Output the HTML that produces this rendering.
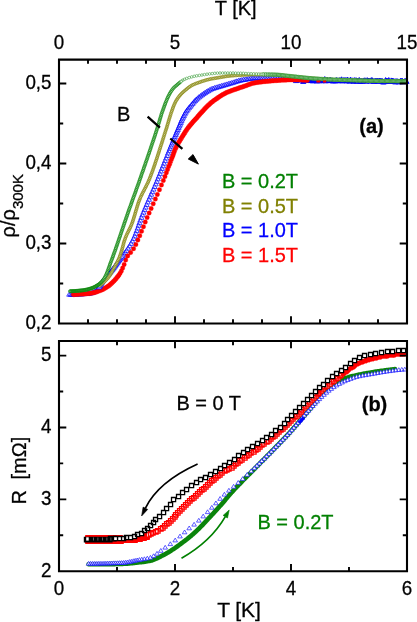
<!DOCTYPE html>
<html><head><meta charset="utf-8"><title>chart</title>
<style>html,body{margin:0;padding:0;background:#fff}svg{display:block}</style></head>
<body>
<svg width="417" height="622" viewBox="0 0 417 622" font-family="Liberation Sans, sans-serif">
<rect width="417" height="622" fill="#fff"/>
<g id="top">
<path d="M69.2 291.9l2.6 4.3h-5.1zM70.5 291.9l2.6 4.3h-5.1zM71.8 291.9l2.6 4.3h-5.1zM73.1 291.9l2.6 4.3h-5.1zM74.4 291.8l2.6 4.3h-5.1zM75.7 291.8l2.6 4.3h-5.1zM76.9 291.7l2.6 4.3h-5.1zM78.2 291.7l2.6 4.3h-5.1zM79.5 291.6l2.6 4.3h-5.1zM80.7 291.6l2.6 4.3h-5.1zM82 291.5l2.6 4.3h-5.1zM83.3 291.4l2.6 4.3h-5.1zM84.5 291.3l2.6 4.3h-5.1zM85.8 291.2l2.6 4.3h-5.1zM87 291.1l2.6 4.3h-5.1zM88.2 291l2.6 4.3h-5.1zM89.5 290.8l2.6 4.3h-5.1zM90.7 290.6l2.6 4.3h-5.1zM91.9 290.3l2.6 4.3h-5.1zM93 289.9l2.6 4.3h-5.1zM94.2 289.4l2.6 4.3h-5.1zM95.2 288.9l2.6 4.3h-5.1zM96.3 288.3l2.6 4.3h-5.1zM97.3 287.6l2.6 4.3h-5.1zM98.1 286.7l2.6 4.3h-5.1zM98.7 285.7l2.6 4.3h-5.1zM122.7 253.2l2.6 4.3h-5.1zM123.8 251.7l2.6 4.3h-5.1zM125.1 250l2.6 4.3h-5.1zM126.5 248.1l2.6 4.3h-5.1zM128 245.8l2.6 4.3h-5.1zM129.5 243.5l2.6 4.3h-5.1zM131 241.1l2.6 4.3h-5.1zM132.3 238.6l2.6 4.3h-5.1zM133.6 236.1l2.6 4.3h-5.1zM134.7 233.6l2.6 4.3h-5.1zM135.7 231l2.6 4.3h-5.1zM136.6 228.3l2.6 4.3h-5.1zM137.6 225.7l2.6 4.3h-5.1zM138.5 223l2.6 4.3h-5.1zM139.4 220.4l2.6 4.3h-5.1zM140.3 217.8l2.6 4.3h-5.1zM141.3 215.1l2.6 4.3h-5.1zM142.3 212.5l2.6 4.3h-5.1zM143.4 209.9l2.6 4.3h-5.1zM144.4 207.3l2.6 4.3h-5.1zM145.5 204.8l2.6 4.3h-5.1zM146.6 202.2l2.6 4.3h-5.1zM147.7 199.6l2.6 4.3h-5.1zM148.9 197l2.6 4.3h-5.1zM150 194.5l2.6 4.3h-5.1zM151.1 191.9l2.6 4.3h-5.1zM152.2 189.4l2.6 4.3h-5.1zM153.4 186.8l2.6 4.3h-5.1zM154.5 184.2l2.6 4.3h-5.1zM155.6 181.6l2.6 4.3h-5.1zM156.7 179.1l2.6 4.3h-5.1zM157.7 176.5l2.6 4.3h-5.1zM158.8 173.9l2.6 4.3h-5.1zM159.9 171.3l2.6 4.3h-5.1zM160.9 168.7l2.6 4.3h-5.1zM161.9 166.1l2.6 4.3h-5.1zM163 163.5l2.6 4.3h-5.1zM164 160.9l2.6 4.3h-5.1zM165 158.3l2.6 4.3h-5.1zM166.1 155.7l2.6 4.3h-5.1zM167.1 153.2l2.6 4.3h-5.1zM168 150.7l2.6 4.3h-5.1zM169 148.4l2.6 4.3h-5.1zM169.9 146.1l2.6 4.3h-5.1zM170.8 143.9l2.6 4.3h-5.1zM171.6 141.8l2.6 4.3h-5.1zM172.5 139.8l2.6 4.3h-5.1zM173.3 137.8l2.6 4.3h-5.1zM174.1 135.9l2.6 4.3h-5.1zM174.8 134.1l2.6 4.3h-5.1zM175.6 132.3l2.6 4.3h-5.1zM176.3 130.6l2.6 4.3h-5.1zM177 128.8l2.6 4.3h-5.1zM177.8 127.1l2.6 4.3h-5.1zM178.5 125.3l2.6 4.3h-5.1zM179.3 123.6l2.6 4.3h-5.1zM180 121.9l2.6 4.3h-5.1zM180.7 120.1l2.6 4.3h-5.1zM181.4 118.4l2.6 4.3h-5.1zM182.2 116.6l2.6 4.3h-5.1zM183 114.9l2.6 4.3h-5.1zM183.8 113.3l2.6 4.3h-5.1zM184.7 111.6l2.6 4.3h-5.1zM185.6 109.9l2.6 4.3h-5.1zM186.6 108.4l2.6 4.3h-5.1zM187.7 106.9l2.6 4.3h-5.1zM188.9 105.4l2.6 4.3h-5.1zM190.1 104l2.6 4.3h-5.1zM191.3 102.6l2.6 4.3h-5.1zM192.5 101.1l2.6 4.3h-5.1zM193.7 99.7l2.6 4.3h-5.1zM195 98.3l2.6 4.3h-5.1zM196.2 97l2.6 4.3h-5.1zM197.6 95.8l2.6 4.3h-5.1zM199 94.6l2.6 4.3h-5.1zM200.5 93.5l2.6 4.3h-5.1zM202 92.4l2.6 4.3h-5.1zM203.5 91.3l2.6 4.3h-5.1zM205 90.3l2.6 4.3h-5.1zM206.5 89.3l2.6 4.3h-5.1zM208.1 88.4l2.6 4.3h-5.1zM209.7 87.5l2.6 4.3h-5.1zM211.3 86.6l2.6 4.3h-5.1zM213 86l2.6 4.3h-5.1zM214.7 85.4l2.6 4.3h-5.1zM216.4 84.9l2.6 4.3h-5.1zM218.2 84.4l2.6 4.3h-5.1zM219.9 83.9l2.6 4.3h-5.1zM221.6 83.4l2.6 4.3h-5.1zM223.3 82.9l2.6 4.3h-5.1zM225 82.4l2.6 4.3h-5.1zM226.7 81.9l2.6 4.3h-5.1zM228.4 81.4l2.6 4.3h-5.1zM230.1 80.9l2.6 4.3h-5.1zM231.8 80.4l2.6 4.3h-5.1zM233.5 79.9l2.6 4.3h-5.1zM235.2 79.3l2.6 4.3h-5.1zM236.9 78.8l2.6 4.3h-5.1zM238.6 78.3l2.6 4.3h-5.1zM240.2 77.9l2.6 4.3h-5.1zM241.9 77.5l2.6 4.3h-5.1zM243.7 77.2l2.6 4.3h-5.1zM245.4 76.9l2.6 4.3h-5.1zM247.1 76.6l2.6 4.3h-5.1zM248.8 76.3l2.6 4.3h-5.1zM250.5 76l2.6 4.3h-5.1zM252.2 75.8l2.6 4.3h-5.1zM253.9 75.7l2.6 4.3h-5.1zM255.6 75.7l2.6 4.3h-5.1zM257.3 75.7l2.6 4.3h-5.1zM259 75.7l2.6 4.3h-5.1zM260.7 75.8l2.6 4.3h-5.1zM262.4 75.8l2.6 4.3h-5.1zM264.1 75.8l2.6 4.3h-5.1zM265.8 75.9l2.6 4.3h-5.1zM267.5 75.9l2.6 4.3h-5.1zM269.1 76l2.6 4.3h-5.1zM270.8 76l2.6 4.3h-5.1zM272.5 76l2.6 4.3h-5.1zM274.1 76.1l2.6 4.3h-5.1zM275.8 76.2l2.6 4.3h-5.1zM277.5 76.2l2.6 4.3h-5.1zM279.1 76.3l2.6 4.3h-5.1zM280.8 76.4l2.6 4.3h-5.1zM282.4 76.5l2.6 4.3h-5.1zM284 76.5l2.6 4.3h-5.1zM285.7 76.6l2.6 4.3h-5.1zM287.3 76.7l2.6 4.3h-5.1zM288.9 76.8l2.6 4.3h-5.1zM290.6 76.9l2.6 4.3h-5.1zM292.2 77l2.6 4.3h-5.1zM293.8 77l2.6 4.3h-5.1zM295.4 77.1l2.6 4.3h-5.1zM297 77.1l2.6 4.3h-5.1zM298.6 77.2l2.6 4.3h-5.1z" fill="#fff" stroke="#0000ff" stroke-width="0.7" />
<path d="M296 78.1l2.7 4.5h-5.3zM296.8 76.1l2.7 4.5h-5.3zM297.6 77.4l2.7 4.5h-5.3zM298.4 77l2.7 4.5h-5.3zM299.2 77.1l2.7 4.5h-5.3zM300 77.3l2.7 4.5h-5.3zM300.8 76.5l2.7 4.5h-5.3zM301.6 77.3l2.7 4.5h-5.3zM302.4 77l2.7 4.5h-5.3zM303.2 79l2.7 4.5h-5.3zM304 77.6l2.7 4.5h-5.3zM304.8 77.4l2.7 4.5h-5.3zM305.6 77.4l2.7 4.5h-5.3zM306.4 77.3l2.7 4.5h-5.3zM307.2 77.1l2.7 4.5h-5.3zM308 77.4l2.7 4.5h-5.3zM308.8 77.8l2.7 4.5h-5.3zM309.6 77.5l2.7 4.5h-5.3zM310.4 78.1l2.7 4.5h-5.3zM311.2 77.6l2.7 4.5h-5.3zM312 77.7l2.7 4.5h-5.3zM312.8 78.4l2.7 4.5h-5.3zM313.6 78l2.7 4.5h-5.3zM314.4 77.5l2.7 4.5h-5.3zM315.2 77.7l2.7 4.5h-5.3zM316 78l2.7 4.5h-5.3zM316.8 78.6l2.7 4.5h-5.3zM317.6 77.6l2.7 4.5h-5.3zM318.4 77.7l2.7 4.5h-5.3zM319.2 78.2l2.7 4.5h-5.3zM320 77.4l2.7 4.5h-5.3zM320.8 77.7l2.7 4.5h-5.3zM321.6 78.2l2.7 4.5h-5.3zM322.4 78.1l2.7 4.5h-5.3zM323.2 77.8l2.7 4.5h-5.3zM324 78.1l2.7 4.5h-5.3zM324.8 76.5l2.7 4.5h-5.3zM325.6 78.3l2.7 4.5h-5.3zM326.4 77.4l2.7 4.5h-5.3zM327.2 77.1l2.7 4.5h-5.3zM328 78l2.7 4.5h-5.3zM328.8 78.2l2.7 4.5h-5.3zM329.6 77.7l2.7 4.5h-5.3zM330.4 77.4l2.7 4.5h-5.3zM331.2 77.9l2.7 4.5h-5.3zM332 77.8l2.7 4.5h-5.3zM332.8 78.5l2.7 4.5h-5.3zM333.6 78.2l2.7 4.5h-5.3zM334.4 78l2.7 4.5h-5.3zM335.2 78.4l2.7 4.5h-5.3zM336 77.8l2.7 4.5h-5.3zM336.8 77.5l2.7 4.5h-5.3zM337.6 78.2l2.7 4.5h-5.3zM338.4 78.2l2.7 4.5h-5.3zM339.2 77.8l2.7 4.5h-5.3zM340 77.6l2.7 4.5h-5.3zM340.8 78.1l2.7 4.5h-5.3zM341.6 76.8l2.7 4.5h-5.3zM342.4 78.3l2.7 4.5h-5.3zM343.2 78.2l2.7 4.5h-5.3zM344 77.3l2.7 4.5h-5.3zM344.8 78l2.7 4.5h-5.3zM345.6 77.6l2.7 4.5h-5.3zM346.4 78.4l2.7 4.5h-5.3zM347.2 77.1l2.7 4.5h-5.3zM348 77.6l2.7 4.5h-5.3zM348.8 78.4l2.7 4.5h-5.3zM349.6 78.6l2.7 4.5h-5.3zM350.4 77.1l2.7 4.5h-5.3zM351.2 77.8l2.7 4.5h-5.3zM352 78.2l2.7 4.5h-5.3zM352.8 77.8l2.7 4.5h-5.3zM353.6 78.8l2.7 4.5h-5.3zM354.4 77.6l2.7 4.5h-5.3zM355.2 78.3l2.7 4.5h-5.3zM356 77.6l2.7 4.5h-5.3zM356.8 78.8l2.7 4.5h-5.3zM357.6 78.1l2.7 4.5h-5.3zM358.4 78l2.7 4.5h-5.3zM359.2 77.4l2.7 4.5h-5.3zM360 78.9l2.7 4.5h-5.3zM360.8 78.5l2.7 4.5h-5.3zM361.6 78.5l2.7 4.5h-5.3zM362.4 78.7l2.7 4.5h-5.3zM363.2 78.3l2.7 4.5h-5.3zM364 77.9l2.7 4.5h-5.3zM364.8 77.8l2.7 4.5h-5.3zM365.6 77.9l2.7 4.5h-5.3zM366.4 78.8l2.7 4.5h-5.3zM367.2 77.6l2.7 4.5h-5.3zM368 78l2.7 4.5h-5.3zM368.8 78.1l2.7 4.5h-5.3zM369.6 78.4l2.7 4.5h-5.3zM370.4 78.5l2.7 4.5h-5.3zM371.2 77.7l2.7 4.5h-5.3zM372 77.5l2.7 4.5h-5.3zM372.8 78.3l2.7 4.5h-5.3zM373.6 78.8l2.7 4.5h-5.3zM374.4 78.7l2.7 4.5h-5.3zM375.2 78.4l2.7 4.5h-5.3zM376 78.2l2.7 4.5h-5.3zM376.8 78.5l2.7 4.5h-5.3zM377.6 78.2l2.7 4.5h-5.3zM378.4 78.7l2.7 4.5h-5.3zM379.2 78l2.7 4.5h-5.3zM380 78.4l2.7 4.5h-5.3zM380.8 78.3l2.7 4.5h-5.3zM381.6 78.6l2.7 4.5h-5.3zM382.4 78.5l2.7 4.5h-5.3zM383.2 79.6l2.7 4.5h-5.3zM384 79.1l2.7 4.5h-5.3zM384.8 79.1l2.7 4.5h-5.3zM385.6 77.5l2.7 4.5h-5.3zM386.4 78.3l2.7 4.5h-5.3zM387.2 78.2l2.7 4.5h-5.3zM388 78.7l2.7 4.5h-5.3zM388.8 77.5l2.7 4.5h-5.3zM389.6 79l2.7 4.5h-5.3zM390.4 79l2.7 4.5h-5.3zM391.2 77.9l2.7 4.5h-5.3zM392 78.1l2.7 4.5h-5.3zM392.8 78.2l2.7 4.5h-5.3zM393.6 78.6l2.7 4.5h-5.3zM394.4 78.8l2.7 4.5h-5.3zM395.2 79.5l2.7 4.5h-5.3zM396 78.5l2.7 4.5h-5.3zM396.8 78.9l2.7 4.5h-5.3zM397.6 78.7l2.7 4.5h-5.3zM398.4 79.4l2.7 4.5h-5.3zM399.2 78.9l2.7 4.5h-5.3zM400 79.2l2.7 4.5h-5.3zM400.8 78.1l2.7 4.5h-5.3zM401.6 78.5l2.7 4.5h-5.3zM402.4 78.3l2.7 4.5h-5.3zM403.2 79.3l2.7 4.5h-5.3zM404 79l2.7 4.5h-5.3zM404.8 78.5l2.7 4.5h-5.3zM405.6 78.5l2.7 4.5h-5.3zM406.4 78.9l2.7 4.5h-5.3z" fill="#0000ff" stroke="#0000ff" stroke-width="0.8" />
<path d="M71.2 294.6a2.2 2.2 0 1 0 4.5 0a2.2 2.2 0 1 0 -4.5 0zM72.4 294.5a2.2 2.2 0 1 0 4.5 0a2.2 2.2 0 1 0 -4.5 0zM73.8 294.4a2.2 2.2 0 1 0 4.5 0a2.2 2.2 0 1 0 -4.5 0zM75.1 294.3a2.2 2.2 0 1 0 4.5 0a2.2 2.2 0 1 0 -4.5 0zM76.4 294.2a2.2 2.2 0 1 0 4.5 0a2.2 2.2 0 1 0 -4.5 0zM77.7 294.1a2.2 2.2 0 1 0 4.5 0a2.2 2.2 0 1 0 -4.5 0zM79 294a2.2 2.2 0 1 0 4.5 0a2.2 2.2 0 1 0 -4.5 0zM80.4 293.9a2.2 2.2 0 1 0 4.5 0a2.2 2.2 0 1 0 -4.5 0zM81.7 293.9a2.2 2.2 0 1 0 4.5 0a2.2 2.2 0 1 0 -4.5 0zM83 293.8a2.2 2.2 0 1 0 4.5 0a2.2 2.2 0 1 0 -4.5 0zM84.4 293.7a2.2 2.2 0 1 0 4.5 0a2.2 2.2 0 1 0 -4.5 0zM85.8 293.6a2.2 2.2 0 1 0 4.5 0a2.2 2.2 0 1 0 -4.5 0zM87.1 293.5a2.2 2.2 0 1 0 4.5 0a2.2 2.2 0 1 0 -4.5 0zM88.5 293.3a2.2 2.2 0 1 0 4.5 0a2.2 2.2 0 1 0 -4.5 0zM89.8 293.1a2.2 2.2 0 1 0 4.5 0a2.2 2.2 0 1 0 -4.5 0zM91.2 292.8a2.2 2.2 0 1 0 4.5 0a2.2 2.2 0 1 0 -4.5 0zM92.5 292.4a2.2 2.2 0 1 0 4.5 0a2.2 2.2 0 1 0 -4.5 0zM93.9 292a2.2 2.2 0 1 0 4.5 0a2.2 2.2 0 1 0 -4.5 0zM95.2 291.6a2.2 2.2 0 1 0 4.5 0a2.2 2.2 0 1 0 -4.5 0zM96.5 291.1a2.2 2.2 0 1 0 4.5 0a2.2 2.2 0 1 0 -4.5 0zM97.9 290.6a2.2 2.2 0 1 0 4.5 0a2.2 2.2 0 1 0 -4.5 0zM99.2 290.1a2.2 2.2 0 1 0 4.5 0a2.2 2.2 0 1 0 -4.5 0zM100.5 289.5a2.2 2.2 0 1 0 4.5 0a2.2 2.2 0 1 0 -4.5 0zM101.7 288.8a2.2 2.2 0 1 0 4.5 0a2.2 2.2 0 1 0 -4.5 0zM103 288.1a2.2 2.2 0 1 0 4.5 0a2.2 2.2 0 1 0 -4.5 0zM104.2 287.3a2.2 2.2 0 1 0 4.5 0a2.2 2.2 0 1 0 -4.5 0zM105.4 286.6a2.2 2.2 0 1 0 4.5 0a2.2 2.2 0 1 0 -4.5 0zM106.6 285.7a2.2 2.2 0 1 0 4.5 0a2.2 2.2 0 1 0 -4.5 0zM107.7 284.8a2.2 2.2 0 1 0 4.5 0a2.2 2.2 0 1 0 -4.5 0zM108.8 283.8a2.2 2.2 0 1 0 4.5 0a2.2 2.2 0 1 0 -4.5 0zM109.9 282.8a2.2 2.2 0 1 0 4.5 0a2.2 2.2 0 1 0 -4.5 0zM110.9 281.7a2.2 2.2 0 1 0 4.5 0a2.2 2.2 0 1 0 -4.5 0zM112 280.7a2.2 2.2 0 1 0 4.5 0a2.2 2.2 0 1 0 -4.5 0zM113 279.6a2.2 2.2 0 1 0 4.5 0a2.2 2.2 0 1 0 -4.5 0zM114 278.5a2.2 2.2 0 1 0 4.5 0a2.2 2.2 0 1 0 -4.5 0zM114.9 277.3a2.2 2.2 0 1 0 4.5 0a2.2 2.2 0 1 0 -4.5 0zM115.8 276.2a2.2 2.2 0 1 0 4.5 0a2.2 2.2 0 1 0 -4.5 0zM116.7 274.9a2.2 2.2 0 1 0 4.5 0a2.2 2.2 0 1 0 -4.5 0zM117.8 273.2a2.2 2.2 0 1 0 4.5 0a2.2 2.2 0 1 0 -4.5 0zM119.1 271a2.2 2.2 0 1 0 4.5 0a2.2 2.2 0 1 0 -4.5 0zM120.4 268a2.2 2.2 0 1 0 4.5 0a2.2 2.2 0 1 0 -4.5 0zM121.9 264.4a2.2 2.2 0 1 0 4.5 0a2.2 2.2 0 1 0 -4.5 0zM123.4 260.1a2.2 2.2 0 1 0 4.5 0a2.2 2.2 0 1 0 -4.5 0zM125.4 255.9a2.2 2.2 0 1 0 4.5 0a2.2 2.2 0 1 0 -4.5 0zM128.4 252.4a2.2 2.2 0 1 0 4.5 0a2.2 2.2 0 1 0 -4.5 0zM131.3 248.7a2.2 2.2 0 1 0 4.5 0a2.2 2.2 0 1 0 -4.5 0zM133.6 244.5a2.2 2.2 0 1 0 4.5 0a2.2 2.2 0 1 0 -4.5 0zM135.6 240.1a2.2 2.2 0 1 0 4.5 0a2.2 2.2 0 1 0 -4.5 0zM137.5 235.7a2.2 2.2 0 1 0 4.5 0a2.2 2.2 0 1 0 -4.5 0zM139.3 231.2a2.2 2.2 0 1 0 4.5 0a2.2 2.2 0 1 0 -4.5 0zM141.2 226.7a2.2 2.2 0 1 0 4.5 0a2.2 2.2 0 1 0 -4.5 0zM143 222.1a2.2 2.2 0 1 0 4.5 0a2.2 2.2 0 1 0 -4.5 0zM144.9 217.5a2.2 2.2 0 1 0 4.5 0a2.2 2.2 0 1 0 -4.5 0zM146.9 213a2.2 2.2 0 1 0 4.5 0a2.2 2.2 0 1 0 -4.5 0zM148.9 208.4a2.2 2.2 0 1 0 4.5 0a2.2 2.2 0 1 0 -4.5 0zM151 203.8a2.2 2.2 0 1 0 4.5 0a2.2 2.2 0 1 0 -4.5 0zM153.1 199.1a2.2 2.2 0 1 0 4.5 0a2.2 2.2 0 1 0 -4.5 0zM155.1 194.4a2.2 2.2 0 1 0 4.5 0a2.2 2.2 0 1 0 -4.5 0zM157.2 189.7a2.2 2.2 0 1 0 4.5 0a2.2 2.2 0 1 0 -4.5 0zM159.2 184.9a2.2 2.2 0 1 0 4.5 0a2.2 2.2 0 1 0 -4.5 0zM161.1 180.5a2.2 2.2 0 1 0 4.5 0a2.2 2.2 0 1 0 -4.5 0zM162.7 176.5a2.2 2.2 0 1 0 4.5 0a2.2 2.2 0 1 0 -4.5 0zM164.1 172.8a2.2 2.2 0 1 0 4.5 0a2.2 2.2 0 1 0 -4.5 0zM165.3 169.6a2.2 2.2 0 1 0 4.5 0a2.2 2.2 0 1 0 -4.5 0zM166.4 166.6a2.2 2.2 0 1 0 4.5 0a2.2 2.2 0 1 0 -4.5 0zM167.5 163.9a2.2 2.2 0 1 0 4.5 0a2.2 2.2 0 1 0 -4.5 0zM168.4 161.4a2.2 2.2 0 1 0 4.5 0a2.2 2.2 0 1 0 -4.5 0zM169.2 159.2a2.2 2.2 0 1 0 4.5 0a2.2 2.2 0 1 0 -4.5 0zM170 157.2a2.2 2.2 0 1 0 4.5 0a2.2 2.2 0 1 0 -4.5 0zM170.7 155.4a2.2 2.2 0 1 0 4.5 0a2.2 2.2 0 1 0 -4.5 0zM171.3 153.6a2.2 2.2 0 1 0 4.5 0a2.2 2.2 0 1 0 -4.5 0zM172 151.8a2.2 2.2 0 1 0 4.5 0a2.2 2.2 0 1 0 -4.5 0zM172.6 150.1a2.2 2.2 0 1 0 4.5 0a2.2 2.2 0 1 0 -4.5 0zM173.3 148.4a2.2 2.2 0 1 0 4.5 0a2.2 2.2 0 1 0 -4.5 0zM174 146.9a2.2 2.2 0 1 0 4.5 0a2.2 2.2 0 1 0 -4.5 0zM174.8 145.4a2.2 2.2 0 1 0 4.5 0a2.2 2.2 0 1 0 -4.5 0zM175.6 143.9a2.2 2.2 0 1 0 4.5 0a2.2 2.2 0 1 0 -4.5 0zM176.4 142.6a2.2 2.2 0 1 0 4.5 0a2.2 2.2 0 1 0 -4.5 0zM177.2 141.3a2.2 2.2 0 1 0 4.5 0a2.2 2.2 0 1 0 -4.5 0zM177.9 140.1a2.2 2.2 0 1 0 4.5 0a2.2 2.2 0 1 0 -4.5 0zM178.6 138.9a2.2 2.2 0 1 0 4.5 0a2.2 2.2 0 1 0 -4.5 0zM179.4 137.7a2.2 2.2 0 1 0 4.5 0a2.2 2.2 0 1 0 -4.5 0zM180.1 136.5a2.2 2.2 0 1 0 4.5 0a2.2 2.2 0 1 0 -4.5 0zM180.9 135.3a2.2 2.2 0 1 0 4.5 0a2.2 2.2 0 1 0 -4.5 0zM181.6 134.1a2.2 2.2 0 1 0 4.5 0a2.2 2.2 0 1 0 -4.5 0zM182.4 133a2.2 2.2 0 1 0 4.5 0a2.2 2.2 0 1 0 -4.5 0zM183.1 131.8a2.2 2.2 0 1 0 4.5 0a2.2 2.2 0 1 0 -4.5 0zM183.9 130.6a2.2 2.2 0 1 0 4.5 0a2.2 2.2 0 1 0 -4.5 0zM184.7 129.5a2.2 2.2 0 1 0 4.5 0a2.2 2.2 0 1 0 -4.5 0zM185.5 128.3a2.2 2.2 0 1 0 4.5 0a2.2 2.2 0 1 0 -4.5 0zM186.3 127.2a2.2 2.2 0 1 0 4.5 0a2.2 2.2 0 1 0 -4.5 0zM187.2 126.1a2.2 2.2 0 1 0 4.5 0a2.2 2.2 0 1 0 -4.5 0zM188.1 125a2.2 2.2 0 1 0 4.5 0a2.2 2.2 0 1 0 -4.5 0zM189 123.9a2.2 2.2 0 1 0 4.5 0a2.2 2.2 0 1 0 -4.5 0zM189.9 122.9a2.2 2.2 0 1 0 4.5 0a2.2 2.2 0 1 0 -4.5 0zM190.8 121.8a2.2 2.2 0 1 0 4.5 0a2.2 2.2 0 1 0 -4.5 0zM191.7 120.8a2.2 2.2 0 1 0 4.5 0a2.2 2.2 0 1 0 -4.5 0zM192.7 119.7a2.2 2.2 0 1 0 4.5 0a2.2 2.2 0 1 0 -4.5 0zM193.6 118.7a2.2 2.2 0 1 0 4.5 0a2.2 2.2 0 1 0 -4.5 0zM194.6 117.7a2.2 2.2 0 1 0 4.5 0a2.2 2.2 0 1 0 -4.5 0zM195.5 116.6a2.2 2.2 0 1 0 4.5 0a2.2 2.2 0 1 0 -4.5 0zM196.4 115.6a2.2 2.2 0 1 0 4.5 0a2.2 2.2 0 1 0 -4.5 0zM197.3 114.5a2.2 2.2 0 1 0 4.5 0a2.2 2.2 0 1 0 -4.5 0zM198.2 113.4a2.2 2.2 0 1 0 4.5 0a2.2 2.2 0 1 0 -4.5 0zM199.2 112.4a2.2 2.2 0 1 0 4.5 0a2.2 2.2 0 1 0 -4.5 0zM200.1 111.4a2.2 2.2 0 1 0 4.5 0a2.2 2.2 0 1 0 -4.5 0zM201.1 110.4a2.2 2.2 0 1 0 4.5 0a2.2 2.2 0 1 0 -4.5 0zM202.1 109.3a2.2 2.2 0 1 0 4.5 0a2.2 2.2 0 1 0 -4.5 0zM203 108.3a2.2 2.2 0 1 0 4.5 0a2.2 2.2 0 1 0 -4.5 0zM204 107.3a2.2 2.2 0 1 0 4.5 0a2.2 2.2 0 1 0 -4.5 0zM205 106.3a2.2 2.2 0 1 0 4.5 0a2.2 2.2 0 1 0 -4.5 0zM206 105.3a2.2 2.2 0 1 0 4.5 0a2.2 2.2 0 1 0 -4.5 0zM207 104.4a2.2 2.2 0 1 0 4.5 0a2.2 2.2 0 1 0 -4.5 0zM208 103.4a2.2 2.2 0 1 0 4.5 0a2.2 2.2 0 1 0 -4.5 0zM209.1 102.5a2.2 2.2 0 1 0 4.5 0a2.2 2.2 0 1 0 -4.5 0zM210.2 101.7a2.2 2.2 0 1 0 4.5 0a2.2 2.2 0 1 0 -4.5 0zM211.3 100.8a2.2 2.2 0 1 0 4.5 0a2.2 2.2 0 1 0 -4.5 0zM212.4 100a2.2 2.2 0 1 0 4.5 0a2.2 2.2 0 1 0 -4.5 0zM213.6 99.2a2.2 2.2 0 1 0 4.5 0a2.2 2.2 0 1 0 -4.5 0zM214.7 98.4a2.2 2.2 0 1 0 4.5 0a2.2 2.2 0 1 0 -4.5 0zM215.9 97.6a2.2 2.2 0 1 0 4.5 0a2.2 2.2 0 1 0 -4.5 0zM217.1 96.8a2.2 2.2 0 1 0 4.5 0a2.2 2.2 0 1 0 -4.5 0zM218.2 96.1a2.2 2.2 0 1 0 4.5 0a2.2 2.2 0 1 0 -4.5 0zM219.4 95.3a2.2 2.2 0 1 0 4.5 0a2.2 2.2 0 1 0 -4.5 0zM220.6 94.6a2.2 2.2 0 1 0 4.5 0a2.2 2.2 0 1 0 -4.5 0zM221.8 93.9a2.2 2.2 0 1 0 4.5 0a2.2 2.2 0 1 0 -4.5 0zM223 93.2a2.2 2.2 0 1 0 4.5 0a2.2 2.2 0 1 0 -4.5 0zM224.3 92.6a2.2 2.2 0 1 0 4.5 0a2.2 2.2 0 1 0 -4.5 0zM225.6 92.1a2.2 2.2 0 1 0 4.5 0a2.2 2.2 0 1 0 -4.5 0zM226.9 91.6a2.2 2.2 0 1 0 4.5 0a2.2 2.2 0 1 0 -4.5 0zM228.2 91.1a2.2 2.2 0 1 0 4.5 0a2.2 2.2 0 1 0 -4.5 0zM229.5 90.6a2.2 2.2 0 1 0 4.5 0a2.2 2.2 0 1 0 -4.5 0zM230.8 90.1a2.2 2.2 0 1 0 4.5 0a2.2 2.2 0 1 0 -4.5 0zM232.2 89.6a2.2 2.2 0 1 0 4.5 0a2.2 2.2 0 1 0 -4.5 0zM233.5 89.2a2.2 2.2 0 1 0 4.5 0a2.2 2.2 0 1 0 -4.5 0zM234.8 88.7a2.2 2.2 0 1 0 4.5 0a2.2 2.2 0 1 0 -4.5 0zM236.1 88.2a2.2 2.2 0 1 0 4.5 0a2.2 2.2 0 1 0 -4.5 0zM237.4 87.8a2.2 2.2 0 1 0 4.5 0a2.2 2.2 0 1 0 -4.5 0zM238.8 87.3a2.2 2.2 0 1 0 4.5 0a2.2 2.2 0 1 0 -4.5 0zM240.1 86.9a2.2 2.2 0 1 0 4.5 0a2.2 2.2 0 1 0 -4.5 0zM241.4 86.4a2.2 2.2 0 1 0 4.5 0a2.2 2.2 0 1 0 -4.5 0zM242.7 86a2.2 2.2 0 1 0 4.5 0a2.2 2.2 0 1 0 -4.5 0zM244.1 85.5a2.2 2.2 0 1 0 4.5 0a2.2 2.2 0 1 0 -4.5 0zM245.4 85a2.2 2.2 0 1 0 4.5 0a2.2 2.2 0 1 0 -4.5 0zM246.7 84.5a2.2 2.2 0 1 0 4.5 0a2.2 2.2 0 1 0 -4.5 0zM248 84.1a2.2 2.2 0 1 0 4.5 0a2.2 2.2 0 1 0 -4.5 0zM249.3 83.6a2.2 2.2 0 1 0 4.5 0a2.2 2.2 0 1 0 -4.5 0zM250.7 83.2a2.2 2.2 0 1 0 4.5 0a2.2 2.2 0 1 0 -4.5 0zM252.1 82.9a2.2 2.2 0 1 0 4.5 0a2.2 2.2 0 1 0 -4.5 0zM253.4 82.7a2.2 2.2 0 1 0 4.5 0a2.2 2.2 0 1 0 -4.5 0zM254.8 82.5a2.2 2.2 0 1 0 4.5 0a2.2 2.2 0 1 0 -4.5 0zM256.2 82.3a2.2 2.2 0 1 0 4.5 0a2.2 2.2 0 1 0 -4.5 0zM257.6 82.1a2.2 2.2 0 1 0 4.5 0a2.2 2.2 0 1 0 -4.5 0zM259 81.9a2.2 2.2 0 1 0 4.5 0a2.2 2.2 0 1 0 -4.5 0zM260.4 81.7a2.2 2.2 0 1 0 4.5 0a2.2 2.2 0 1 0 -4.5 0zM261.8 81.6a2.2 2.2 0 1 0 4.5 0a2.2 2.2 0 1 0 -4.5 0zM263.1 81.4a2.2 2.2 0 1 0 4.5 0a2.2 2.2 0 1 0 -4.5 0zM264.5 81.3a2.2 2.2 0 1 0 4.5 0a2.2 2.2 0 1 0 -4.5 0zM265.9 81.2a2.2 2.2 0 1 0 4.5 0a2.2 2.2 0 1 0 -4.5 0zM267.3 81.1a2.2 2.2 0 1 0 4.5 0a2.2 2.2 0 1 0 -4.5 0zM268.7 80.9a2.2 2.2 0 1 0 4.5 0a2.2 2.2 0 1 0 -4.5 0zM270.1 80.8a2.2 2.2 0 1 0 4.5 0a2.2 2.2 0 1 0 -4.5 0zM271.5 80.7a2.2 2.2 0 1 0 4.5 0a2.2 2.2 0 1 0 -4.5 0zM272.9 80.6a2.2 2.2 0 1 0 4.5 0a2.2 2.2 0 1 0 -4.5 0zM274.3 80.5a2.2 2.2 0 1 0 4.5 0a2.2 2.2 0 1 0 -4.5 0zM275.7 80.4a2.2 2.2 0 1 0 4.5 0a2.2 2.2 0 1 0 -4.5 0zM277.1 80.3a2.2 2.2 0 1 0 4.5 0a2.2 2.2 0 1 0 -4.5 0zM278.5 80.2a2.2 2.2 0 1 0 4.5 0a2.2 2.2 0 1 0 -4.5 0zM279.9 80.1a2.2 2.2 0 1 0 4.5 0a2.2 2.2 0 1 0 -4.5 0zM281.3 80a2.2 2.2 0 1 0 4.5 0a2.2 2.2 0 1 0 -4.5 0zM282.7 80a2.2 2.2 0 1 0 4.5 0a2.2 2.2 0 1 0 -4.5 0zM284.1 79.9a2.2 2.2 0 1 0 4.5 0a2.2 2.2 0 1 0 -4.5 0zM285.5 79.8a2.2 2.2 0 1 0 4.5 0a2.2 2.2 0 1 0 -4.5 0zM286.9 79.8a2.2 2.2 0 1 0 4.5 0a2.2 2.2 0 1 0 -4.5 0zM288.3 79.7a2.2 2.2 0 1 0 4.5 0a2.2 2.2 0 1 0 -4.5 0zM289.7 79.7a2.2 2.2 0 1 0 4.5 0a2.2 2.2 0 1 0 -4.5 0zM291.1 79.7a2.2 2.2 0 1 0 4.5 0a2.2 2.2 0 1 0 -4.5 0zM292.5 79.7a2.2 2.2 0 1 0 4.5 0a2.2 2.2 0 1 0 -4.5 0zM293.9 79.7a2.2 2.2 0 1 0 4.5 0a2.2 2.2 0 1 0 -4.5 0zM295.3 79.8a2.2 2.2 0 1 0 4.5 0a2.2 2.2 0 1 0 -4.5 0zM296.7 79.8a2.2 2.2 0 1 0 4.5 0a2.2 2.2 0 1 0 -4.5 0zM298.1 79.8a2.2 2.2 0 1 0 4.5 0a2.2 2.2 0 1 0 -4.5 0zM299.5 79.9a2.2 2.2 0 1 0 4.5 0a2.2 2.2 0 1 0 -4.5 0zM300.9 80a2.2 2.2 0 1 0 4.5 0a2.2 2.2 0 1 0 -4.5 0zM302.3 80.1a2.2 2.2 0 1 0 4.5 0a2.2 2.2 0 1 0 -4.5 0zM303.7 80.2a2.2 2.2 0 1 0 4.5 0a2.2 2.2 0 1 0 -4.5 0zM305.1 80.3a2.2 2.2 0 1 0 4.5 0a2.2 2.2 0 1 0 -4.5 0z" fill="#ff0000" stroke="#ff0000" stroke-width="0.3" />
<path d="M99.3 284.6l2.6 4.3h-5.1zM99.9 283.6l2.6 4.3h-5.1zM100.5 282.5l2.6 4.3h-5.1zM101 281.4l2.6 4.3h-5.1zM101.6 280.4l2.6 4.3h-5.1zM102.2 279.3l2.6 4.3h-5.1zM102.9 278.3l2.6 4.3h-5.1zM103.6 277.4l2.6 4.3h-5.1zM104.4 276.4l2.6 4.3h-5.1zM105.2 275.5l2.6 4.3h-5.1zM106 274.6l2.6 4.3h-5.1zM106.8 273.7l2.6 4.3h-5.1zM107.6 272.7l2.6 4.3h-5.1zM108.4 271.8l2.6 4.3h-5.1zM109.2 270.8l2.6 4.3h-5.1zM110 269.9l2.6 4.3h-5.1zM110.8 268.9l2.6 4.3h-5.1zM111.6 267.9l2.6 4.3h-5.1zM112.4 267l2.6 4.3h-5.1zM113.2 266l2.6 4.3h-5.1zM113.9 265l2.6 4.3h-5.1zM114.7 263.9l2.6 4.3h-5.1zM115.4 262.9l2.6 4.3h-5.1zM116.2 261.9l2.6 4.3h-5.1zM116.9 260.8l2.6 4.3h-5.1zM117.7 259.8l2.6 4.3h-5.1zM118.4 258.7l2.6 4.3h-5.1zM119.2 257.7l2.6 4.3h-5.1zM120 256.7l2.6 4.3h-5.1zM120.7 255.6l2.6 4.3h-5.1zM121.6 254.5l2.6 4.3h-5.1z" fill="#fff" stroke="#0000ff" stroke-width="0.7" />
<path d="M98.5 285.6a1.4 1.4 0 1 0 2.9 0a1.4 1.4 0 1 0 -2.9 0zM99.7 284.6a1.4 1.4 0 1 0 2.9 0a1.4 1.4 0 1 0 -2.9 0zM100.8 283.6a1.4 1.4 0 1 0 2.9 0a1.4 1.4 0 1 0 -2.9 0zM101.9 282.6a1.4 1.4 0 1 0 2.9 0a1.4 1.4 0 1 0 -2.9 0zM103 281.6a1.4 1.4 0 1 0 2.9 0a1.4 1.4 0 1 0 -2.9 0zM104.1 280.5a1.4 1.4 0 1 0 2.9 0a1.4 1.4 0 1 0 -2.9 0zM105.1 279.5a1.4 1.4 0 1 0 2.9 0a1.4 1.4 0 1 0 -2.9 0zM106.2 278.4a1.4 1.4 0 1 0 2.9 0a1.4 1.4 0 1 0 -2.9 0zM107.1 277.2a1.4 1.4 0 1 0 2.9 0a1.4 1.4 0 1 0 -2.9 0zM108 276a1.4 1.4 0 1 0 2.9 0a1.4 1.4 0 1 0 -2.9 0zM108.9 274.8a1.4 1.4 0 1 0 2.9 0a1.4 1.4 0 1 0 -2.9 0zM109.6 273.5a1.4 1.4 0 1 0 2.9 0a1.4 1.4 0 1 0 -2.9 0zM110.3 272.2a1.4 1.4 0 1 0 2.9 0a1.4 1.4 0 1 0 -2.9 0zM111 270.8a1.4 1.4 0 1 0 2.9 0a1.4 1.4 0 1 0 -2.9 0zM111.7 269.5a1.4 1.4 0 1 0 2.9 0a1.4 1.4 0 1 0 -2.9 0zM112.4 268.2a1.4 1.4 0 1 0 2.9 0a1.4 1.4 0 1 0 -2.9 0zM113.1 266.9a1.4 1.4 0 1 0 2.9 0a1.4 1.4 0 1 0 -2.9 0zM113.9 265.5a1.4 1.4 0 1 0 2.9 0a1.4 1.4 0 1 0 -2.9 0zM114.6 264.2a1.4 1.4 0 1 0 2.9 0a1.4 1.4 0 1 0 -2.9 0zM115.3 262.9a1.4 1.4 0 1 0 2.9 0a1.4 1.4 0 1 0 -2.9 0zM116 261.6a1.4 1.4 0 1 0 2.9 0a1.4 1.4 0 1 0 -2.9 0zM116.6 260.2a1.4 1.4 0 1 0 2.9 0a1.4 1.4 0 1 0 -2.9 0zM117.3 258.9a1.4 1.4 0 1 0 2.9 0a1.4 1.4 0 1 0 -2.9 0zM117.9 257.5a1.4 1.4 0 1 0 2.9 0a1.4 1.4 0 1 0 -2.9 0zM118.4 256.1a1.4 1.4 0 1 0 2.9 0a1.4 1.4 0 1 0 -2.9 0zM118.9 254.7a1.4 1.4 0 1 0 2.9 0a1.4 1.4 0 1 0 -2.9 0zM119.4 253.3a1.4 1.4 0 1 0 2.9 0a1.4 1.4 0 1 0 -2.9 0zM119.8 251.8a1.4 1.4 0 1 0 2.9 0a1.4 1.4 0 1 0 -2.9 0zM120.3 250.4a1.4 1.4 0 1 0 2.9 0a1.4 1.4 0 1 0 -2.9 0zM120.7 249a1.4 1.4 0 1 0 2.9 0a1.4 1.4 0 1 0 -2.9 0zM121.1 247.5a1.4 1.4 0 1 0 2.9 0a1.4 1.4 0 1 0 -2.9 0zM121.5 246.1a1.4 1.4 0 1 0 2.9 0a1.4 1.4 0 1 0 -2.9 0zM121.9 244.6a1.4 1.4 0 1 0 2.9 0a1.4 1.4 0 1 0 -2.9 0zM122.2 243.1a1.4 1.4 0 1 0 2.9 0a1.4 1.4 0 1 0 -2.9 0zM122.6 241.7a1.4 1.4 0 1 0 2.9 0a1.4 1.4 0 1 0 -2.9 0zM123.1 240.3a1.4 1.4 0 1 0 2.9 0a1.4 1.4 0 1 0 -2.9 0zM123.6 238.9a1.4 1.4 0 1 0 2.9 0a1.4 1.4 0 1 0 -2.9 0zM124.1 237.4a1.4 1.4 0 1 0 2.9 0a1.4 1.4 0 1 0 -2.9 0zM124.7 236.1a1.4 1.4 0 1 0 2.9 0a1.4 1.4 0 1 0 -2.9 0zM125.3 234.7a1.4 1.4 0 1 0 2.9 0a1.4 1.4 0 1 0 -2.9 0zM125.9 233.3a1.4 1.4 0 1 0 2.9 0a1.4 1.4 0 1 0 -2.9 0zM126.6 232a1.4 1.4 0 1 0 2.9 0a1.4 1.4 0 1 0 -2.9 0zM127.3 230.6a1.4 1.4 0 1 0 2.9 0a1.4 1.4 0 1 0 -2.9 0zM127.9 229.3a1.4 1.4 0 1 0 2.9 0a1.4 1.4 0 1 0 -2.9 0zM128.6 228a1.4 1.4 0 1 0 2.9 0a1.4 1.4 0 1 0 -2.9 0zM129.2 226.6a1.4 1.4 0 1 0 2.9 0a1.4 1.4 0 1 0 -2.9 0zM129.8 225.2a1.4 1.4 0 1 0 2.9 0a1.4 1.4 0 1 0 -2.9 0zM130.4 223.8a1.4 1.4 0 1 0 2.9 0a1.4 1.4 0 1 0 -2.9 0zM130.9 222.4a1.4 1.4 0 1 0 2.9 0a1.4 1.4 0 1 0 -2.9 0zM131.4 221a1.4 1.4 0 1 0 2.9 0a1.4 1.4 0 1 0 -2.9 0zM131.8 219.6a1.4 1.4 0 1 0 2.9 0a1.4 1.4 0 1 0 -2.9 0zM132.3 218.1a1.4 1.4 0 1 0 2.9 0a1.4 1.4 0 1 0 -2.9 0zM132.7 216.7a1.4 1.4 0 1 0 2.9 0a1.4 1.4 0 1 0 -2.9 0zM133.2 215.3a1.4 1.4 0 1 0 2.9 0a1.4 1.4 0 1 0 -2.9 0zM133.6 213.8a1.4 1.4 0 1 0 2.9 0a1.4 1.4 0 1 0 -2.9 0zM134 212.4a1.4 1.4 0 1 0 2.9 0a1.4 1.4 0 1 0 -2.9 0zM134.4 211a1.4 1.4 0 1 0 2.9 0a1.4 1.4 0 1 0 -2.9 0zM134.9 209.5a1.4 1.4 0 1 0 2.9 0a1.4 1.4 0 1 0 -2.9 0zM135.3 208.1a1.4 1.4 0 1 0 2.9 0a1.4 1.4 0 1 0 -2.9 0zM135.7 206.6a1.4 1.4 0 1 0 2.9 0a1.4 1.4 0 1 0 -2.9 0zM136.2 205.2a1.4 1.4 0 1 0 2.9 0a1.4 1.4 0 1 0 -2.9 0zM136.6 203.8a1.4 1.4 0 1 0 2.9 0a1.4 1.4 0 1 0 -2.9 0zM137.1 202.4a1.4 1.4 0 1 0 2.9 0a1.4 1.4 0 1 0 -2.9 0zM137.6 201a1.4 1.4 0 1 0 2.9 0a1.4 1.4 0 1 0 -2.9 0zM138.2 199.6a1.4 1.4 0 1 0 2.9 0a1.4 1.4 0 1 0 -2.9 0zM138.7 198.2a1.4 1.4 0 1 0 2.9 0a1.4 1.4 0 1 0 -2.9 0zM139.3 196.8a1.4 1.4 0 1 0 2.9 0a1.4 1.4 0 1 0 -2.9 0zM140 195.4a1.4 1.4 0 1 0 2.9 0a1.4 1.4 0 1 0 -2.9 0zM140.6 194.1a1.4 1.4 0 1 0 2.9 0a1.4 1.4 0 1 0 -2.9 0zM141.3 192.7a1.4 1.4 0 1 0 2.9 0a1.4 1.4 0 1 0 -2.9 0zM142 191.4a1.4 1.4 0 1 0 2.9 0a1.4 1.4 0 1 0 -2.9 0zM142.7 190.1a1.4 1.4 0 1 0 2.9 0a1.4 1.4 0 1 0 -2.9 0zM143.4 188.7a1.4 1.4 0 1 0 2.9 0a1.4 1.4 0 1 0 -2.9 0zM144.1 187.4a1.4 1.4 0 1 0 2.9 0a1.4 1.4 0 1 0 -2.9 0zM144.7 186.1a1.4 1.4 0 1 0 2.9 0a1.4 1.4 0 1 0 -2.9 0zM145.4 184.7a1.4 1.4 0 1 0 2.9 0a1.4 1.4 0 1 0 -2.9 0zM146.1 183.4a1.4 1.4 0 1 0 2.9 0a1.4 1.4 0 1 0 -2.9 0zM146.7 182a1.4 1.4 0 1 0 2.9 0a1.4 1.4 0 1 0 -2.9 0zM147.3 180.6a1.4 1.4 0 1 0 2.9 0a1.4 1.4 0 1 0 -2.9 0zM147.9 179.3a1.4 1.4 0 1 0 2.9 0a1.4 1.4 0 1 0 -2.9 0zM148.4 177.9a1.4 1.4 0 1 0 2.9 0a1.4 1.4 0 1 0 -2.9 0zM149 176.5a1.4 1.4 0 1 0 2.9 0a1.4 1.4 0 1 0 -2.9 0zM149.5 175.1a1.4 1.4 0 1 0 2.9 0a1.4 1.4 0 1 0 -2.9 0zM150 173.7a1.4 1.4 0 1 0 2.9 0a1.4 1.4 0 1 0 -2.9 0zM150.6 172.3a1.4 1.4 0 1 0 2.9 0a1.4 1.4 0 1 0 -2.9 0zM151.1 170.9a1.4 1.4 0 1 0 2.9 0a1.4 1.4 0 1 0 -2.9 0zM151.6 169.5a1.4 1.4 0 1 0 2.9 0a1.4 1.4 0 1 0 -2.9 0zM152.1 168a1.4 1.4 0 1 0 2.9 0a1.4 1.4 0 1 0 -2.9 0zM152.6 166.6a1.4 1.4 0 1 0 2.9 0a1.4 1.4 0 1 0 -2.9 0zM153.1 165.2a1.4 1.4 0 1 0 2.9 0a1.4 1.4 0 1 0 -2.9 0zM153.6 163.8a1.4 1.4 0 1 0 2.9 0a1.4 1.4 0 1 0 -2.9 0zM154 162.4a1.4 1.4 0 1 0 2.9 0a1.4 1.4 0 1 0 -2.9 0zM154.5 160.9a1.4 1.4 0 1 0 2.9 0a1.4 1.4 0 1 0 -2.9 0zM155 159.5a1.4 1.4 0 1 0 2.9 0a1.4 1.4 0 1 0 -2.9 0zM155.5 158.1a1.4 1.4 0 1 0 2.9 0a1.4 1.4 0 1 0 -2.9 0zM155.9 156.7a1.4 1.4 0 1 0 2.9 0a1.4 1.4 0 1 0 -2.9 0zM156.4 155.2a1.4 1.4 0 1 0 2.9 0a1.4 1.4 0 1 0 -2.9 0zM156.9 153.8a1.4 1.4 0 1 0 2.9 0a1.4 1.4 0 1 0 -2.9 0zM157.3 152.4a1.4 1.4 0 1 0 2.9 0a1.4 1.4 0 1 0 -2.9 0zM157.8 151a1.4 1.4 0 1 0 2.9 0a1.4 1.4 0 1 0 -2.9 0zM158.2 149.5a1.4 1.4 0 1 0 2.9 0a1.4 1.4 0 1 0 -2.9 0zM158.7 148.1a1.4 1.4 0 1 0 2.9 0a1.4 1.4 0 1 0 -2.9 0zM159.1 146.7a1.4 1.4 0 1 0 2.9 0a1.4 1.4 0 1 0 -2.9 0zM159.6 145.2a1.4 1.4 0 1 0 2.9 0a1.4 1.4 0 1 0 -2.9 0zM160.1 143.8a1.4 1.4 0 1 0 2.9 0a1.4 1.4 0 1 0 -2.9 0zM160.5 142.4a1.4 1.4 0 1 0 2.9 0a1.4 1.4 0 1 0 -2.9 0zM161 141a1.4 1.4 0 1 0 2.9 0a1.4 1.4 0 1 0 -2.9 0zM161.4 139.5a1.4 1.4 0 1 0 2.9 0a1.4 1.4 0 1 0 -2.9 0zM161.9 138.1a1.4 1.4 0 1 0 2.9 0a1.4 1.4 0 1 0 -2.9 0zM162.3 136.7a1.4 1.4 0 1 0 2.9 0a1.4 1.4 0 1 0 -2.9 0zM162.8 135.2a1.4 1.4 0 1 0 2.9 0a1.4 1.4 0 1 0 -2.9 0zM163.2 133.8a1.4 1.4 0 1 0 2.9 0a1.4 1.4 0 1 0 -2.9 0zM163.7 132.4a1.4 1.4 0 1 0 2.9 0a1.4 1.4 0 1 0 -2.9 0zM164.1 130.9a1.4 1.4 0 1 0 2.9 0a1.4 1.4 0 1 0 -2.9 0zM164.6 129.5a1.4 1.4 0 1 0 2.9 0a1.4 1.4 0 1 0 -2.9 0zM165.1 128.1a1.4 1.4 0 1 0 2.9 0a1.4 1.4 0 1 0 -2.9 0zM165.5 126.7a1.4 1.4 0 1 0 2.9 0a1.4 1.4 0 1 0 -2.9 0zM165.9 125.2a1.4 1.4 0 1 0 2.9 0a1.4 1.4 0 1 0 -2.9 0zM166.4 123.8a1.4 1.4 0 1 0 2.9 0a1.4 1.4 0 1 0 -2.9 0zM166.8 122.3a1.4 1.4 0 1 0 2.9 0a1.4 1.4 0 1 0 -2.9 0zM167.2 120.9a1.4 1.4 0 1 0 2.9 0a1.4 1.4 0 1 0 -2.9 0zM167.6 119.5a1.4 1.4 0 1 0 2.9 0a1.4 1.4 0 1 0 -2.9 0zM168.1 118a1.4 1.4 0 1 0 2.9 0a1.4 1.4 0 1 0 -2.9 0zM168.5 116.6a1.4 1.4 0 1 0 2.9 0a1.4 1.4 0 1 0 -2.9 0zM169 115.2a1.4 1.4 0 1 0 2.9 0a1.4 1.4 0 1 0 -2.9 0zM169.4 113.7a1.4 1.4 0 1 0 2.9 0a1.4 1.4 0 1 0 -2.9 0zM169.9 112.3a1.4 1.4 0 1 0 2.9 0a1.4 1.4 0 1 0 -2.9 0zM170.4 110.9a1.4 1.4 0 1 0 2.9 0a1.4 1.4 0 1 0 -2.9 0zM170.9 109.5a1.4 1.4 0 1 0 2.9 0a1.4 1.4 0 1 0 -2.9 0zM171.4 108.1a1.4 1.4 0 1 0 2.9 0a1.4 1.4 0 1 0 -2.9 0zM171.9 106.7a1.4 1.4 0 1 0 2.9 0a1.4 1.4 0 1 0 -2.9 0zM172.5 105.3a1.4 1.4 0 1 0 2.9 0a1.4 1.4 0 1 0 -2.9 0zM173.1 103.9a1.4 1.4 0 1 0 2.9 0a1.4 1.4 0 1 0 -2.9 0zM173.7 102.5a1.4 1.4 0 1 0 2.9 0a1.4 1.4 0 1 0 -2.9 0zM174.4 101.2a1.4 1.4 0 1 0 2.9 0a1.4 1.4 0 1 0 -2.9 0zM175.2 99.9a1.4 1.4 0 1 0 2.9 0a1.4 1.4 0 1 0 -2.9 0zM176 98.7a1.4 1.4 0 1 0 2.9 0a1.4 1.4 0 1 0 -2.9 0zM176.8 97.4a1.4 1.4 0 1 0 2.9 0a1.4 1.4 0 1 0 -2.9 0zM177.8 96.2a1.4 1.4 0 1 0 2.9 0a1.4 1.4 0 1 0 -2.9 0zM178.7 95.1a1.4 1.4 0 1 0 2.9 0a1.4 1.4 0 1 0 -2.9 0zM179.7 94a1.4 1.4 0 1 0 2.9 0a1.4 1.4 0 1 0 -2.9 0zM180.8 92.9a1.4 1.4 0 1 0 2.9 0a1.4 1.4 0 1 0 -2.9 0zM181.9 91.9a1.4 1.4 0 1 0 2.9 0a1.4 1.4 0 1 0 -2.9 0zM183 90.9a1.4 1.4 0 1 0 2.9 0a1.4 1.4 0 1 0 -2.9 0zM184.2 89.9a1.4 1.4 0 1 0 2.9 0a1.4 1.4 0 1 0 -2.9 0zM185.3 89a1.4 1.4 0 1 0 2.9 0a1.4 1.4 0 1 0 -2.9 0zM186.5 88a1.4 1.4 0 1 0 2.9 0a1.4 1.4 0 1 0 -2.9 0zM187.7 87.1a1.4 1.4 0 1 0 2.9 0a1.4 1.4 0 1 0 -2.9 0zM188.9 86.3a1.4 1.4 0 1 0 2.9 0a1.4 1.4 0 1 0 -2.9 0zM190.2 85.5a1.4 1.4 0 1 0 2.9 0a1.4 1.4 0 1 0 -2.9 0zM191.5 84.8a1.4 1.4 0 1 0 2.9 0a1.4 1.4 0 1 0 -2.9 0zM192.9 84.2a1.4 1.4 0 1 0 2.9 0a1.4 1.4 0 1 0 -2.9 0zM194.3 83.6a1.4 1.4 0 1 0 2.9 0a1.4 1.4 0 1 0 -2.9 0zM195.7 83.1a1.4 1.4 0 1 0 2.9 0a1.4 1.4 0 1 0 -2.9 0zM197.1 82.6a1.4 1.4 0 1 0 2.9 0a1.4 1.4 0 1 0 -2.9 0zM198.5 82.1a1.4 1.4 0 1 0 2.9 0a1.4 1.4 0 1 0 -2.9 0zM199.9 81.6a1.4 1.4 0 1 0 2.9 0a1.4 1.4 0 1 0 -2.9 0zM201.3 81.1a1.4 1.4 0 1 0 2.9 0a1.4 1.4 0 1 0 -2.9 0zM202.8 80.7a1.4 1.4 0 1 0 2.9 0a1.4 1.4 0 1 0 -2.9 0zM204.2 80.2a1.4 1.4 0 1 0 2.9 0a1.4 1.4 0 1 0 -2.9 0zM205.7 79.8a1.4 1.4 0 1 0 2.9 0a1.4 1.4 0 1 0 -2.9 0zM207.1 79.5a1.4 1.4 0 1 0 2.9 0a1.4 1.4 0 1 0 -2.9 0zM208.6 79.1a1.4 1.4 0 1 0 2.9 0a1.4 1.4 0 1 0 -2.9 0zM210 78.8a1.4 1.4 0 1 0 2.9 0a1.4 1.4 0 1 0 -2.9 0zM211.5 78.6a1.4 1.4 0 1 0 2.9 0a1.4 1.4 0 1 0 -2.9 0zM213 78.3a1.4 1.4 0 1 0 2.9 0a1.4 1.4 0 1 0 -2.9 0zM214.5 78.1a1.4 1.4 0 1 0 2.9 0a1.4 1.4 0 1 0 -2.9 0zM216 77.8a1.4 1.4 0 1 0 2.9 0a1.4 1.4 0 1 0 -2.9 0zM217.4 77.6a1.4 1.4 0 1 0 2.9 0a1.4 1.4 0 1 0 -2.9 0zM218.9 77.3a1.4 1.4 0 1 0 2.9 0a1.4 1.4 0 1 0 -2.9 0zM220.4 77.1a1.4 1.4 0 1 0 2.9 0a1.4 1.4 0 1 0 -2.9 0zM221.9 76.8a1.4 1.4 0 1 0 2.9 0a1.4 1.4 0 1 0 -2.9 0zM223.3 76.6a1.4 1.4 0 1 0 2.9 0a1.4 1.4 0 1 0 -2.9 0zM224.8 76.3a1.4 1.4 0 1 0 2.9 0a1.4 1.4 0 1 0 -2.9 0zM226.3 76.1a1.4 1.4 0 1 0 2.9 0a1.4 1.4 0 1 0 -2.9 0zM227.8 76a1.4 1.4 0 1 0 2.9 0a1.4 1.4 0 1 0 -2.9 0zM229.3 75.8a1.4 1.4 0 1 0 2.9 0a1.4 1.4 0 1 0 -2.9 0zM230.8 75.7a1.4 1.4 0 1 0 2.9 0a1.4 1.4 0 1 0 -2.9 0zM232.3 75.6a1.4 1.4 0 1 0 2.9 0a1.4 1.4 0 1 0 -2.9 0zM233.8 75.4a1.4 1.4 0 1 0 2.9 0a1.4 1.4 0 1 0 -2.9 0zM235.3 75.3a1.4 1.4 0 1 0 2.9 0a1.4 1.4 0 1 0 -2.9 0zM236.8 75.2a1.4 1.4 0 1 0 2.9 0a1.4 1.4 0 1 0 -2.9 0zM238.3 75.2a1.4 1.4 0 1 0 2.9 0a1.4 1.4 0 1 0 -2.9 0zM239.8 75.1a1.4 1.4 0 1 0 2.9 0a1.4 1.4 0 1 0 -2.9 0zM241.3 75a1.4 1.4 0 1 0 2.9 0a1.4 1.4 0 1 0 -2.9 0zM242.8 74.9a1.4 1.4 0 1 0 2.9 0a1.4 1.4 0 1 0 -2.9 0zM244.3 74.9a1.4 1.4 0 1 0 2.9 0a1.4 1.4 0 1 0 -2.9 0zM245.8 74.8a1.4 1.4 0 1 0 2.9 0a1.4 1.4 0 1 0 -2.9 0zM247.3 74.7a1.4 1.4 0 1 0 2.9 0a1.4 1.4 0 1 0 -2.9 0zM248.8 74.7a1.4 1.4 0 1 0 2.9 0a1.4 1.4 0 1 0 -2.9 0zM250.3 74.6a1.4 1.4 0 1 0 2.9 0a1.4 1.4 0 1 0 -2.9 0zM251.8 74.6a1.4 1.4 0 1 0 2.9 0a1.4 1.4 0 1 0 -2.9 0zM253.3 74.6a1.4 1.4 0 1 0 2.9 0a1.4 1.4 0 1 0 -2.9 0zM254.8 74.6a1.4 1.4 0 1 0 2.9 0a1.4 1.4 0 1 0 -2.9 0zM256.3 74.6a1.4 1.4 0 1 0 2.9 0a1.4 1.4 0 1 0 -2.9 0zM257.8 74.6a1.4 1.4 0 1 0 2.9 0a1.4 1.4 0 1 0 -2.9 0zM259.3 74.6a1.4 1.4 0 1 0 2.9 0a1.4 1.4 0 1 0 -2.9 0zM260.8 74.6a1.4 1.4 0 1 0 2.9 0a1.4 1.4 0 1 0 -2.9 0zM262.3 74.6a1.4 1.4 0 1 0 2.9 0a1.4 1.4 0 1 0 -2.9 0zM263.8 74.7a1.4 1.4 0 1 0 2.9 0a1.4 1.4 0 1 0 -2.9 0zM265.3 74.7a1.4 1.4 0 1 0 2.9 0a1.4 1.4 0 1 0 -2.9 0zM266.8 74.7a1.4 1.4 0 1 0 2.9 0a1.4 1.4 0 1 0 -2.9 0zM268.3 74.7a1.4 1.4 0 1 0 2.9 0a1.4 1.4 0 1 0 -2.9 0zM269.8 74.7a1.4 1.4 0 1 0 2.9 0a1.4 1.4 0 1 0 -2.9 0zM271.3 74.8a1.4 1.4 0 1 0 2.9 0a1.4 1.4 0 1 0 -2.9 0zM272.8 74.8a1.4 1.4 0 1 0 2.9 0a1.4 1.4 0 1 0 -2.9 0zM274.3 74.8a1.4 1.4 0 1 0 2.9 0a1.4 1.4 0 1 0 -2.9 0zM275.8 74.9a1.4 1.4 0 1 0 2.9 0a1.4 1.4 0 1 0 -2.9 0zM277.3 75a1.4 1.4 0 1 0 2.9 0a1.4 1.4 0 1 0 -2.9 0zM278.8 75.1a1.4 1.4 0 1 0 2.9 0a1.4 1.4 0 1 0 -2.9 0zM280.2 75.3a1.4 1.4 0 1 0 2.9 0a1.4 1.4 0 1 0 -2.9 0zM281.7 75.4a1.4 1.4 0 1 0 2.9 0a1.4 1.4 0 1 0 -2.9 0zM283.2 75.6a1.4 1.4 0 1 0 2.9 0a1.4 1.4 0 1 0 -2.9 0zM284.7 75.7a1.4 1.4 0 1 0 2.9 0a1.4 1.4 0 1 0 -2.9 0zM286.2 75.9a1.4 1.4 0 1 0 2.9 0a1.4 1.4 0 1 0 -2.9 0zM287.7 76.1a1.4 1.4 0 1 0 2.9 0a1.4 1.4 0 1 0 -2.9 0zM289.2 76.2a1.4 1.4 0 1 0 2.9 0a1.4 1.4 0 1 0 -2.9 0zM290.7 76.4a1.4 1.4 0 1 0 2.9 0a1.4 1.4 0 1 0 -2.9 0zM292.2 76.5a1.4 1.4 0 1 0 2.9 0a1.4 1.4 0 1 0 -2.9 0zM293.7 76.7a1.4 1.4 0 1 0 2.9 0a1.4 1.4 0 1 0 -2.9 0zM295.2 76.8a1.4 1.4 0 1 0 2.9 0a1.4 1.4 0 1 0 -2.9 0zM296.7 77a1.4 1.4 0 1 0 2.9 0a1.4 1.4 0 1 0 -2.9 0zM298.1 77.1a1.4 1.4 0 1 0 2.9 0a1.4 1.4 0 1 0 -2.9 0zM299.6 77.3a1.4 1.4 0 1 0 2.9 0a1.4 1.4 0 1 0 -2.9 0zM301.1 77.5a1.4 1.4 0 1 0 2.9 0a1.4 1.4 0 1 0 -2.9 0zM302.6 77.6a1.4 1.4 0 1 0 2.9 0a1.4 1.4 0 1 0 -2.9 0zM304.1 77.8a1.4 1.4 0 1 0 2.9 0a1.4 1.4 0 1 0 -2.9 0zM305.6 77.9a1.4 1.4 0 1 0 2.9 0a1.4 1.4 0 1 0 -2.9 0zM307.1 78.1a1.4 1.4 0 1 0 2.9 0a1.4 1.4 0 1 0 -2.9 0zM308.6 78.2a1.4 1.4 0 1 0 2.9 0a1.4 1.4 0 1 0 -2.9 0zM310.1 78.3a1.4 1.4 0 1 0 2.9 0a1.4 1.4 0 1 0 -2.9 0zM311.6 78.4a1.4 1.4 0 1 0 2.9 0a1.4 1.4 0 1 0 -2.9 0zM313.1 78.5a1.4 1.4 0 1 0 2.9 0a1.4 1.4 0 1 0 -2.9 0zM314.6 78.6a1.4 1.4 0 1 0 2.9 0a1.4 1.4 0 1 0 -2.9 0zM316.1 78.8a1.4 1.4 0 1 0 2.9 0a1.4 1.4 0 1 0 -2.9 0zM317.6 78.9a1.4 1.4 0 1 0 2.9 0a1.4 1.4 0 1 0 -2.9 0zM319.1 79a1.4 1.4 0 1 0 2.9 0a1.4 1.4 0 1 0 -2.9 0zM320.6 79.1a1.4 1.4 0 1 0 2.9 0a1.4 1.4 0 1 0 -2.9 0zM322.1 79.1a1.4 1.4 0 1 0 2.9 0a1.4 1.4 0 1 0 -2.9 0zM323.6 79.2a1.4 1.4 0 1 0 2.9 0a1.4 1.4 0 1 0 -2.9 0zM325.1 79.3a1.4 1.4 0 1 0 2.9 0a1.4 1.4 0 1 0 -2.9 0zM326.6 79.4a1.4 1.4 0 1 0 2.9 0a1.4 1.4 0 1 0 -2.9 0zM328.1 79.5a1.4 1.4 0 1 0 2.9 0a1.4 1.4 0 1 0 -2.9 0zM329.6 79.5a1.4 1.4 0 1 0 2.9 0a1.4 1.4 0 1 0 -2.9 0zM331 79.6a1.4 1.4 0 1 0 2.9 0a1.4 1.4 0 1 0 -2.9 0zM332.5 79.7a1.4 1.4 0 1 0 2.9 0a1.4 1.4 0 1 0 -2.9 0zM334 79.7a1.4 1.4 0 1 0 2.9 0a1.4 1.4 0 1 0 -2.9 0zM335.5 79.8a1.4 1.4 0 1 0 2.9 0a1.4 1.4 0 1 0 -2.9 0zM337 79.8a1.4 1.4 0 1 0 2.9 0a1.4 1.4 0 1 0 -2.9 0zM338.5 79.9a1.4 1.4 0 1 0 2.9 0a1.4 1.4 0 1 0 -2.9 0zM340 79.9a1.4 1.4 0 1 0 2.9 0a1.4 1.4 0 1 0 -2.9 0zM341.5 80a1.4 1.4 0 1 0 2.9 0a1.4 1.4 0 1 0 -2.9 0zM343 80a1.4 1.4 0 1 0 2.9 0a1.4 1.4 0 1 0 -2.9 0zM344.5 80.1a1.4 1.4 0 1 0 2.9 0a1.4 1.4 0 1 0 -2.9 0zM346 80.1a1.4 1.4 0 1 0 2.9 0a1.4 1.4 0 1 0 -2.9 0zM347.5 80.2a1.4 1.4 0 1 0 2.9 0a1.4 1.4 0 1 0 -2.9 0zM349 80.2a1.4 1.4 0 1 0 2.9 0a1.4 1.4 0 1 0 -2.9 0zM350.5 80.2a1.4 1.4 0 1 0 2.9 0a1.4 1.4 0 1 0 -2.9 0zM352 80.3a1.4 1.4 0 1 0 2.9 0a1.4 1.4 0 1 0 -2.9 0zM353.5 80.3a1.4 1.4 0 1 0 2.9 0a1.4 1.4 0 1 0 -2.9 0zM355 80.4a1.4 1.4 0 1 0 2.9 0a1.4 1.4 0 1 0 -2.9 0zM356.5 80.4a1.4 1.4 0 1 0 2.9 0a1.4 1.4 0 1 0 -2.9 0zM358 80.5a1.4 1.4 0 1 0 2.9 0a1.4 1.4 0 1 0 -2.9 0zM359.5 80.5a1.4 1.4 0 1 0 2.9 0a1.4 1.4 0 1 0 -2.9 0zM361 80.5a1.4 1.4 0 1 0 2.9 0a1.4 1.4 0 1 0 -2.9 0zM362.5 80.6a1.4 1.4 0 1 0 2.9 0a1.4 1.4 0 1 0 -2.9 0zM364 80.6a1.4 1.4 0 1 0 2.9 0a1.4 1.4 0 1 0 -2.9 0zM365.5 80.7a1.4 1.4 0 1 0 2.9 0a1.4 1.4 0 1 0 -2.9 0zM367 80.7a1.4 1.4 0 1 0 2.9 0a1.4 1.4 0 1 0 -2.9 0zM368.5 80.7a1.4 1.4 0 1 0 2.9 0a1.4 1.4 0 1 0 -2.9 0zM370 80.8a1.4 1.4 0 1 0 2.9 0a1.4 1.4 0 1 0 -2.9 0zM371.5 80.8a1.4 1.4 0 1 0 2.9 0a1.4 1.4 0 1 0 -2.9 0zM373 80.8a1.4 1.4 0 1 0 2.9 0a1.4 1.4 0 1 0 -2.9 0zM374.5 80.9a1.4 1.4 0 1 0 2.9 0a1.4 1.4 0 1 0 -2.9 0zM376 80.9a1.4 1.4 0 1 0 2.9 0a1.4 1.4 0 1 0 -2.9 0zM377.5 80.9a1.4 1.4 0 1 0 2.9 0a1.4 1.4 0 1 0 -2.9 0zM379 80.9a1.4 1.4 0 1 0 2.9 0a1.4 1.4 0 1 0 -2.9 0zM380.5 81a1.4 1.4 0 1 0 2.9 0a1.4 1.4 0 1 0 -2.9 0zM382 81a1.4 1.4 0 1 0 2.9 0a1.4 1.4 0 1 0 -2.9 0zM383.5 81a1.4 1.4 0 1 0 2.9 0a1.4 1.4 0 1 0 -2.9 0zM385 81a1.4 1.4 0 1 0 2.9 0a1.4 1.4 0 1 0 -2.9 0zM386.5 81.1a1.4 1.4 0 1 0 2.9 0a1.4 1.4 0 1 0 -2.9 0zM388 81.1a1.4 1.4 0 1 0 2.9 0a1.4 1.4 0 1 0 -2.9 0zM389.5 81.1a1.4 1.4 0 1 0 2.9 0a1.4 1.4 0 1 0 -2.9 0zM391 81.1a1.4 1.4 0 1 0 2.9 0a1.4 1.4 0 1 0 -2.9 0zM392.5 81.1a1.4 1.4 0 1 0 2.9 0a1.4 1.4 0 1 0 -2.9 0zM394 81.1a1.4 1.4 0 1 0 2.9 0a1.4 1.4 0 1 0 -2.9 0zM395.5 81.2a1.4 1.4 0 1 0 2.9 0a1.4 1.4 0 1 0 -2.9 0zM397 81.2a1.4 1.4 0 1 0 2.9 0a1.4 1.4 0 1 0 -2.9 0zM398.5 81.2a1.4 1.4 0 1 0 2.9 0a1.4 1.4 0 1 0 -2.9 0zM400 81.2a1.4 1.4 0 1 0 2.9 0a1.4 1.4 0 1 0 -2.9 0zM401.5 81.2a1.4 1.4 0 1 0 2.9 0a1.4 1.4 0 1 0 -2.9 0zM403 81.2a1.4 1.4 0 1 0 2.9 0a1.4 1.4 0 1 0 -2.9 0zM404.5 81.2a1.4 1.4 0 1 0 2.9 0a1.4 1.4 0 1 0 -2.9 0z" fill="#f0f0d8" stroke="#85850c" stroke-width="0.66" />
<path d="M68.5 291.2a1.5 1.5 0 1 0 3 0a1.5 1.5 0 1 0 -3 0zM69.1 291.2a1.5 1.5 0 1 0 3 0a1.5 1.5 0 1 0 -3 0zM69.7 291.2a1.5 1.5 0 1 0 3 0a1.5 1.5 0 1 0 -3 0zM70.3 291.2a1.5 1.5 0 1 0 3 0a1.5 1.5 0 1 0 -3 0zM70.9 291.2a1.5 1.5 0 1 0 3 0a1.5 1.5 0 1 0 -3 0zM71.5 291.1a1.5 1.5 0 1 0 3 0a1.5 1.5 0 1 0 -3 0zM72.1 291.1a1.5 1.5 0 1 0 3 0a1.5 1.5 0 1 0 -3 0zM72.7 291.1a1.5 1.5 0 1 0 3 0a1.5 1.5 0 1 0 -3 0zM73.4 291a1.5 1.5 0 1 0 3 0a1.5 1.5 0 1 0 -3 0zM74 291a1.5 1.5 0 1 0 3 0a1.5 1.5 0 1 0 -3 0zM74.6 290.9a1.5 1.5 0 1 0 3 0a1.5 1.5 0 1 0 -3 0zM75.2 290.9a1.5 1.5 0 1 0 3 0a1.5 1.5 0 1 0 -3 0zM75.8 290.8a1.5 1.5 0 1 0 3 0a1.5 1.5 0 1 0 -3 0zM76.5 290.8a1.5 1.5 0 1 0 3 0a1.5 1.5 0 1 0 -3 0zM77.1 290.7a1.5 1.5 0 1 0 3 0a1.5 1.5 0 1 0 -3 0zM77.7 290.7a1.5 1.5 0 1 0 3 0a1.5 1.5 0 1 0 -3 0zM78.3 290.6a1.5 1.5 0 1 0 3 0a1.5 1.5 0 1 0 -3 0zM79 290.5a1.5 1.5 0 1 0 3 0a1.5 1.5 0 1 0 -3 0zM79.6 290.5a1.5 1.5 0 1 0 3 0a1.5 1.5 0 1 0 -3 0zM80.2 290.4a1.5 1.5 0 1 0 3 0a1.5 1.5 0 1 0 -3 0zM80.9 290.3a1.5 1.5 0 1 0 3 0a1.5 1.5 0 1 0 -3 0zM81.5 290.3a1.5 1.5 0 1 0 3 0a1.5 1.5 0 1 0 -3 0zM82.2 290.2a1.5 1.5 0 1 0 3 0a1.5 1.5 0 1 0 -3 0zM82.8 290.1a1.5 1.5 0 1 0 3 0a1.5 1.5 0 1 0 -3 0zM83.4 289.9a1.5 1.5 0 1 0 3 0a1.5 1.5 0 1 0 -3 0zM84.1 289.8a1.5 1.5 0 1 0 3 0a1.5 1.5 0 1 0 -3 0zM84.7 289.7a1.5 1.5 0 1 0 3 0a1.5 1.5 0 1 0 -3 0zM85.4 289.6a1.5 1.5 0 1 0 3 0a1.5 1.5 0 1 0 -3 0zM86 289.4a1.5 1.5 0 1 0 3 0a1.5 1.5 0 1 0 -3 0zM86.7 289.3a1.5 1.5 0 1 0 3 0a1.5 1.5 0 1 0 -3 0zM87.3 289.1a1.5 1.5 0 1 0 3 0a1.5 1.5 0 1 0 -3 0zM87.9 288.9a1.5 1.5 0 1 0 3 0a1.5 1.5 0 1 0 -3 0zM88.6 288.7a1.5 1.5 0 1 0 3 0a1.5 1.5 0 1 0 -3 0zM89.2 288.5a1.5 1.5 0 1 0 3 0a1.5 1.5 0 1 0 -3 0zM89.9 288.3a1.5 1.5 0 1 0 3 0a1.5 1.5 0 1 0 -3 0zM90.5 288.1a1.5 1.5 0 1 0 3 0a1.5 1.5 0 1 0 -3 0zM91.1 287.8a1.5 1.5 0 1 0 3 0a1.5 1.5 0 1 0 -3 0zM91.8 287.6a1.5 1.5 0 1 0 3 0a1.5 1.5 0 1 0 -3 0zM92.4 287.3a1.5 1.5 0 1 0 3 0a1.5 1.5 0 1 0 -3 0zM93 287a1.5 1.5 0 1 0 3 0a1.5 1.5 0 1 0 -3 0zM93.6 286.7a1.5 1.5 0 1 0 3 0a1.5 1.5 0 1 0 -3 0zM94.2 286.3a1.5 1.5 0 1 0 3 0a1.5 1.5 0 1 0 -3 0zM94.8 286a1.5 1.5 0 1 0 3 0a1.5 1.5 0 1 0 -3 0zM95.4 285.6a1.5 1.5 0 1 0 3 0a1.5 1.5 0 1 0 -3 0zM96 285.2a1.5 1.5 0 1 0 3 0a1.5 1.5 0 1 0 -3 0zM96.6 284.9a1.5 1.5 0 1 0 3 0a1.5 1.5 0 1 0 -3 0zM97.2 284.5a1.5 1.5 0 1 0 3 0a1.5 1.5 0 1 0 -3 0zM97.8 284a1.5 1.5 0 1 0 3 0a1.5 1.5 0 1 0 -3 0zM98.4 283.5a1.5 1.5 0 1 0 3 0a1.5 1.5 0 1 0 -3 0zM99.1 282.8a1.5 1.5 0 1 0 3 0a1.5 1.5 0 1 0 -3 0zM99.8 282.1a1.5 1.5 0 1 0 3 0a1.5 1.5 0 1 0 -3 0zM100.6 281.3a1.5 1.5 0 1 0 3 0a1.5 1.5 0 1 0 -3 0zM101.3 280.4a1.5 1.5 0 1 0 3 0a1.5 1.5 0 1 0 -3 0zM102.1 279.4a1.5 1.5 0 1 0 3 0a1.5 1.5 0 1 0 -3 0zM102.8 278.3a1.5 1.5 0 1 0 3 0a1.5 1.5 0 1 0 -3 0zM103.5 277.1a1.5 1.5 0 1 0 3 0a1.5 1.5 0 1 0 -3 0zM104.1 275.8a1.5 1.5 0 1 0 3 0a1.5 1.5 0 1 0 -3 0zM104.7 274.5a1.5 1.5 0 1 0 3 0a1.5 1.5 0 1 0 -3 0zM105.3 273.2a1.5 1.5 0 1 0 3 0a1.5 1.5 0 1 0 -3 0zM105.8 272a1.5 1.5 0 1 0 3 0a1.5 1.5 0 1 0 -3 0zM106.3 270.6a1.5 1.5 0 1 0 3 0a1.5 1.5 0 1 0 -3 0zM106.8 269.3a1.5 1.5 0 1 0 3 0a1.5 1.5 0 1 0 -3 0zM107.2 268a1.5 1.5 0 1 0 3 0a1.5 1.5 0 1 0 -3 0zM107.7 266.7a1.5 1.5 0 1 0 3 0a1.5 1.5 0 1 0 -3 0zM108.2 265.3a1.5 1.5 0 1 0 3 0a1.5 1.5 0 1 0 -3 0zM108.6 264a1.5 1.5 0 1 0 3 0a1.5 1.5 0 1 0 -3 0zM109.1 262.7a1.5 1.5 0 1 0 3 0a1.5 1.5 0 1 0 -3 0zM109.6 261.4a1.5 1.5 0 1 0 3 0a1.5 1.5 0 1 0 -3 0zM110.1 260a1.5 1.5 0 1 0 3 0a1.5 1.5 0 1 0 -3 0zM110.6 258.7a1.5 1.5 0 1 0 3 0a1.5 1.5 0 1 0 -3 0zM111.1 257.4a1.5 1.5 0 1 0 3 0a1.5 1.5 0 1 0 -3 0zM111.6 256.1a1.5 1.5 0 1 0 3 0a1.5 1.5 0 1 0 -3 0zM112 254.7a1.5 1.5 0 1 0 3 0a1.5 1.5 0 1 0 -3 0zM112.5 253.4a1.5 1.5 0 1 0 3 0a1.5 1.5 0 1 0 -3 0zM113 252.1a1.5 1.5 0 1 0 3 0a1.5 1.5 0 1 0 -3 0zM113.5 250.7a1.5 1.5 0 1 0 3 0a1.5 1.5 0 1 0 -3 0zM114 249.4a1.5 1.5 0 1 0 3 0a1.5 1.5 0 1 0 -3 0zM114.4 248.1a1.5 1.5 0 1 0 3 0a1.5 1.5 0 1 0 -3 0zM114.9 246.7a1.5 1.5 0 1 0 3 0a1.5 1.5 0 1 0 -3 0zM115.4 245.4a1.5 1.5 0 1 0 3 0a1.5 1.5 0 1 0 -3 0zM115.8 244.1a1.5 1.5 0 1 0 3 0a1.5 1.5 0 1 0 -3 0zM116.3 242.7a1.5 1.5 0 1 0 3 0a1.5 1.5 0 1 0 -3 0zM116.7 241.4a1.5 1.5 0 1 0 3 0a1.5 1.5 0 1 0 -3 0zM117.2 240a1.5 1.5 0 1 0 3 0a1.5 1.5 0 1 0 -3 0zM117.6 238.7a1.5 1.5 0 1 0 3 0a1.5 1.5 0 1 0 -3 0zM118.1 237.3a1.5 1.5 0 1 0 3 0a1.5 1.5 0 1 0 -3 0zM118.6 236a1.5 1.5 0 1 0 3 0a1.5 1.5 0 1 0 -3 0zM119 234.6a1.5 1.5 0 1 0 3 0a1.5 1.5 0 1 0 -3 0zM119.5 233.3a1.5 1.5 0 1 0 3 0a1.5 1.5 0 1 0 -3 0zM119.9 231.9a1.5 1.5 0 1 0 3 0a1.5 1.5 0 1 0 -3 0zM120.4 230.6a1.5 1.5 0 1 0 3 0a1.5 1.5 0 1 0 -3 0zM120.8 229.3a1.5 1.5 0 1 0 3 0a1.5 1.5 0 1 0 -3 0zM121.3 227.9a1.5 1.5 0 1 0 3 0a1.5 1.5 0 1 0 -3 0zM121.8 226.5a1.5 1.5 0 1 0 3 0a1.5 1.5 0 1 0 -3 0zM122.2 225.2a1.5 1.5 0 1 0 3 0a1.5 1.5 0 1 0 -3 0zM122.7 223.8a1.5 1.5 0 1 0 3 0a1.5 1.5 0 1 0 -3 0zM123.1 222.5a1.5 1.5 0 1 0 3 0a1.5 1.5 0 1 0 -3 0zM123.6 221.1a1.5 1.5 0 1 0 3 0a1.5 1.5 0 1 0 -3 0zM124.1 219.8a1.5 1.5 0 1 0 3 0a1.5 1.5 0 1 0 -3 0zM124.5 218.4a1.5 1.5 0 1 0 3 0a1.5 1.5 0 1 0 -3 0zM125 217.1a1.5 1.5 0 1 0 3 0a1.5 1.5 0 1 0 -3 0zM125.5 215.7a1.5 1.5 0 1 0 3 0a1.5 1.5 0 1 0 -3 0zM125.9 214.4a1.5 1.5 0 1 0 3 0a1.5 1.5 0 1 0 -3 0zM126.4 213a1.5 1.5 0 1 0 3 0a1.5 1.5 0 1 0 -3 0zM126.9 211.7a1.5 1.5 0 1 0 3 0a1.5 1.5 0 1 0 -3 0zM127.3 210.3a1.5 1.5 0 1 0 3 0a1.5 1.5 0 1 0 -3 0zM127.8 209a1.5 1.5 0 1 0 3 0a1.5 1.5 0 1 0 -3 0zM128.3 207.6a1.5 1.5 0 1 0 3 0a1.5 1.5 0 1 0 -3 0zM128.8 206.3a1.5 1.5 0 1 0 3 0a1.5 1.5 0 1 0 -3 0zM129.3 204.9a1.5 1.5 0 1 0 3 0a1.5 1.5 0 1 0 -3 0zM129.8 203.6a1.5 1.5 0 1 0 3 0a1.5 1.5 0 1 0 -3 0zM130.2 202.2a1.5 1.5 0 1 0 3 0a1.5 1.5 0 1 0 -3 0zM130.7 200.9a1.5 1.5 0 1 0 3 0a1.5 1.5 0 1 0 -3 0zM131.2 199.5a1.5 1.5 0 1 0 3 0a1.5 1.5 0 1 0 -3 0zM131.7 198.1a1.5 1.5 0 1 0 3 0a1.5 1.5 0 1 0 -3 0zM132.2 196.8a1.5 1.5 0 1 0 3 0a1.5 1.5 0 1 0 -3 0zM132.7 195.4a1.5 1.5 0 1 0 3 0a1.5 1.5 0 1 0 -3 0zM133.2 194.1a1.5 1.5 0 1 0 3 0a1.5 1.5 0 1 0 -3 0zM133.7 192.7a1.5 1.5 0 1 0 3 0a1.5 1.5 0 1 0 -3 0zM134.2 191.4a1.5 1.5 0 1 0 3 0a1.5 1.5 0 1 0 -3 0zM134.6 190a1.5 1.5 0 1 0 3 0a1.5 1.5 0 1 0 -3 0zM135.1 188.6a1.5 1.5 0 1 0 3 0a1.5 1.5 0 1 0 -3 0zM135.6 187.3a1.5 1.5 0 1 0 3 0a1.5 1.5 0 1 0 -3 0zM136.1 185.9a1.5 1.5 0 1 0 3 0a1.5 1.5 0 1 0 -3 0zM136.6 184.6a1.5 1.5 0 1 0 3 0a1.5 1.5 0 1 0 -3 0zM137.1 183.2a1.5 1.5 0 1 0 3 0a1.5 1.5 0 1 0 -3 0zM137.6 181.8a1.5 1.5 0 1 0 3 0a1.5 1.5 0 1 0 -3 0zM138 180.5a1.5 1.5 0 1 0 3 0a1.5 1.5 0 1 0 -3 0zM138.5 179.1a1.5 1.5 0 1 0 3 0a1.5 1.5 0 1 0 -3 0zM139 177.7a1.5 1.5 0 1 0 3 0a1.5 1.5 0 1 0 -3 0zM139.5 176.4a1.5 1.5 0 1 0 3 0a1.5 1.5 0 1 0 -3 0zM139.9 175a1.5 1.5 0 1 0 3 0a1.5 1.5 0 1 0 -3 0zM140.4 173.6a1.5 1.5 0 1 0 3 0a1.5 1.5 0 1 0 -3 0zM140.9 172.2a1.5 1.5 0 1 0 3 0a1.5 1.5 0 1 0 -3 0zM141.4 170.9a1.5 1.5 0 1 0 3 0a1.5 1.5 0 1 0 -3 0zM141.9 169.5a1.5 1.5 0 1 0 3 0a1.5 1.5 0 1 0 -3 0zM142.3 168.1a1.5 1.5 0 1 0 3 0a1.5 1.5 0 1 0 -3 0zM142.8 166.7a1.5 1.5 0 1 0 3 0a1.5 1.5 0 1 0 -3 0zM143.3 165.4a1.5 1.5 0 1 0 3 0a1.5 1.5 0 1 0 -3 0zM143.8 164a1.5 1.5 0 1 0 3 0a1.5 1.5 0 1 0 -3 0zM144.2 162.6a1.5 1.5 0 1 0 3 0a1.5 1.5 0 1 0 -3 0zM144.7 161.2a1.5 1.5 0 1 0 3 0a1.5 1.5 0 1 0 -3 0zM145.2 159.9a1.5 1.5 0 1 0 3 0a1.5 1.5 0 1 0 -3 0zM145.7 158.5a1.5 1.5 0 1 0 3 0a1.5 1.5 0 1 0 -3 0zM146.1 157.1a1.5 1.5 0 1 0 3 0a1.5 1.5 0 1 0 -3 0zM146.6 155.7a1.5 1.5 0 1 0 3 0a1.5 1.5 0 1 0 -3 0zM147.1 154.3a1.5 1.5 0 1 0 3 0a1.5 1.5 0 1 0 -3 0zM147.6 153a1.5 1.5 0 1 0 3 0a1.5 1.5 0 1 0 -3 0zM148 151.6a1.5 1.5 0 1 0 3 0a1.5 1.5 0 1 0 -3 0zM148.5 150.2a1.5 1.5 0 1 0 3 0a1.5 1.5 0 1 0 -3 0zM149 148.8a1.5 1.5 0 1 0 3 0a1.5 1.5 0 1 0 -3 0zM149.4 147.4a1.5 1.5 0 1 0 3 0a1.5 1.5 0 1 0 -3 0zM149.9 146a1.5 1.5 0 1 0 3 0a1.5 1.5 0 1 0 -3 0zM150.4 144.6a1.5 1.5 0 1 0 3 0a1.5 1.5 0 1 0 -3 0zM150.8 143.2a1.5 1.5 0 1 0 3 0a1.5 1.5 0 1 0 -3 0zM151.3 141.8a1.5 1.5 0 1 0 3 0a1.5 1.5 0 1 0 -3 0zM151.8 140.5a1.5 1.5 0 1 0 3 0a1.5 1.5 0 1 0 -3 0zM152.2 139.1a1.5 1.5 0 1 0 3 0a1.5 1.5 0 1 0 -3 0zM152.7 137.7a1.5 1.5 0 1 0 3 0a1.5 1.5 0 1 0 -3 0zM153.2 136.3a1.5 1.5 0 1 0 3 0a1.5 1.5 0 1 0 -3 0zM153.6 134.9a1.5 1.5 0 1 0 3 0a1.5 1.5 0 1 0 -3 0zM154.1 133.5a1.5 1.5 0 1 0 3 0a1.5 1.5 0 1 0 -3 0zM154.5 132.1a1.5 1.5 0 1 0 3 0a1.5 1.5 0 1 0 -3 0zM155 130.7a1.5 1.5 0 1 0 3 0a1.5 1.5 0 1 0 -3 0zM155.4 129.3a1.5 1.5 0 1 0 3 0a1.5 1.5 0 1 0 -3 0zM155.9 127.9a1.5 1.5 0 1 0 3 0a1.5 1.5 0 1 0 -3 0zM156.3 126.5a1.5 1.5 0 1 0 3 0a1.5 1.5 0 1 0 -3 0zM156.7 125a1.5 1.5 0 1 0 3 0a1.5 1.5 0 1 0 -3 0zM157.2 123.6a1.5 1.5 0 1 0 3 0a1.5 1.5 0 1 0 -3 0zM157.6 122.2a1.5 1.5 0 1 0 3 0a1.5 1.5 0 1 0 -3 0zM158 120.8a1.5 1.5 0 1 0 3 0a1.5 1.5 0 1 0 -3 0zM158.4 119.4a1.5 1.5 0 1 0 3 0a1.5 1.5 0 1 0 -3 0zM158.8 118a1.5 1.5 0 1 0 3 0a1.5 1.5 0 1 0 -3 0zM159.3 116.6a1.5 1.5 0 1 0 3 0a1.5 1.5 0 1 0 -3 0zM159.7 115.1a1.5 1.5 0 1 0 3 0a1.5 1.5 0 1 0 -3 0zM160.1 113.7a1.5 1.5 0 1 0 3 0a1.5 1.5 0 1 0 -3 0zM160.6 112.3a1.5 1.5 0 1 0 3 0a1.5 1.5 0 1 0 -3 0zM161.1 110.9a1.5 1.5 0 1 0 3 0a1.5 1.5 0 1 0 -3 0zM161.6 109.5a1.5 1.5 0 1 0 3 0a1.5 1.5 0 1 0 -3 0zM162.1 108.1a1.5 1.5 0 1 0 3 0a1.5 1.5 0 1 0 -3 0zM162.6 106.7a1.5 1.5 0 1 0 3 0a1.5 1.5 0 1 0 -3 0zM163.1 105.3a1.5 1.5 0 1 0 3 0a1.5 1.5 0 1 0 -3 0zM163.6 104a1.5 1.5 0 1 0 3 0a1.5 1.5 0 1 0 -3 0zM164.1 102.6a1.5 1.5 0 1 0 3 0a1.5 1.5 0 1 0 -3 0zM164.7 101.2a1.5 1.5 0 1 0 3 0a1.5 1.5 0 1 0 -3 0zM165.3 99.8a1.5 1.5 0 1 0 3 0a1.5 1.5 0 1 0 -3 0zM165.8 98.4a1.5 1.5 0 1 0 3 0a1.5 1.5 0 1 0 -3 0zM166.5 97.1a1.5 1.5 0 1 0 3 0a1.5 1.5 0 1 0 -3 0zM167.1 95.8a1.5 1.5 0 1 0 3 0a1.5 1.5 0 1 0 -3 0zM167.8 94.4a1.5 1.5 0 1 0 3 0a1.5 1.5 0 1 0 -3 0zM168.5 93.1a1.5 1.5 0 1 0 3 0a1.5 1.5 0 1 0 -3 0zM169.3 91.8a1.5 1.5 0 1 0 3 0a1.5 1.5 0 1 0 -3 0zM170.1 90.6a1.5 1.5 0 1 0 3 0a1.5 1.5 0 1 0 -3 0zM170.9 89.4a1.5 1.5 0 1 0 3 0a1.5 1.5 0 1 0 -3 0zM171.9 88.2a1.5 1.5 0 1 0 3 0a1.5 1.5 0 1 0 -3 0zM172.9 87.1a1.5 1.5 0 1 0 3 0a1.5 1.5 0 1 0 -3 0zM174.1 86.1a1.5 1.5 0 1 0 3 0a1.5 1.5 0 1 0 -3 0zM175.2 85.2a1.5 1.5 0 1 0 3 0a1.5 1.5 0 1 0 -3 0zM176.3 84.2a1.5 1.5 0 1 0 3 0a1.5 1.5 0 1 0 -3 0zM177.5 83.2a1.5 1.5 0 1 0 3 0a1.5 1.5 0 1 0 -3 0zM178.7 82.2a1.5 1.5 0 1 0 3 0a1.5 1.5 0 1 0 -3 0z" fill="#dcefdc" stroke="#108810" stroke-width="0.66" />
<path d="M180.1 81.2a1.3 1.3 0 1 0 2.6 0a1.3 1.3 0 1 0 -2.6 0zM181.5 80.2a1.3 1.3 0 1 0 2.6 0a1.3 1.3 0 1 0 -2.6 0zM183.3 79.3a1.3 1.3 0 1 0 2.6 0a1.3 1.3 0 1 0 -2.6 0zM185.4 78.4a1.3 1.3 0 1 0 2.6 0a1.3 1.3 0 1 0 -2.6 0zM187.9 77.6a1.3 1.3 0 1 0 2.6 0a1.3 1.3 0 1 0 -2.6 0zM190.4 76.9a1.3 1.3 0 1 0 2.6 0a1.3 1.3 0 1 0 -2.6 0zM192.9 76.3a1.3 1.3 0 1 0 2.6 0a1.3 1.3 0 1 0 -2.6 0zM195.4 75.8a1.3 1.3 0 1 0 2.6 0a1.3 1.3 0 1 0 -2.6 0zM198 75.4a1.3 1.3 0 1 0 2.6 0a1.3 1.3 0 1 0 -2.6 0zM200.6 75a1.3 1.3 0 1 0 2.6 0a1.3 1.3 0 1 0 -2.6 0zM203.1 74.6a1.3 1.3 0 1 0 2.6 0a1.3 1.3 0 1 0 -2.6 0zM205.7 74.2a1.3 1.3 0 1 0 2.6 0a1.3 1.3 0 1 0 -2.6 0zM208.3 73.9a1.3 1.3 0 1 0 2.6 0a1.3 1.3 0 1 0 -2.6 0zM210.9 73.6a1.3 1.3 0 1 0 2.6 0a1.3 1.3 0 1 0 -2.6 0zM213.5 73.3a1.3 1.3 0 1 0 2.6 0a1.3 1.3 0 1 0 -2.6 0zM216.1 73.1a1.3 1.3 0 1 0 2.6 0a1.3 1.3 0 1 0 -2.6 0zM218.7 73a1.3 1.3 0 1 0 2.6 0a1.3 1.3 0 1 0 -2.6 0zM221.3 73a1.3 1.3 0 1 0 2.6 0a1.3 1.3 0 1 0 -2.6 0zM223.9 73a1.3 1.3 0 1 0 2.6 0a1.3 1.3 0 1 0 -2.6 0zM226.5 73a1.3 1.3 0 1 0 2.6 0a1.3 1.3 0 1 0 -2.6 0zM229.1 73a1.3 1.3 0 1 0 2.6 0a1.3 1.3 0 1 0 -2.6 0zM231.7 73a1.3 1.3 0 1 0 2.6 0a1.3 1.3 0 1 0 -2.6 0zM234.3 73.1a1.3 1.3 0 1 0 2.6 0a1.3 1.3 0 1 0 -2.6 0zM236.9 73.2a1.3 1.3 0 1 0 2.6 0a1.3 1.3 0 1 0 -2.6 0zM239.4 73.2a1.3 1.3 0 1 0 2.6 0a1.3 1.3 0 1 0 -2.6 0zM242 73.3a1.3 1.3 0 1 0 2.6 0a1.3 1.3 0 1 0 -2.6 0zM244.6 73.5a1.3 1.3 0 1 0 2.6 0a1.3 1.3 0 1 0 -2.6 0zM247.2 73.6a1.3 1.3 0 1 0 2.6 0a1.3 1.3 0 1 0 -2.6 0zM249.8 73.8a1.3 1.3 0 1 0 2.6 0a1.3 1.3 0 1 0 -2.6 0zM252.4 73.9a1.3 1.3 0 1 0 2.6 0a1.3 1.3 0 1 0 -2.6 0zM255 74a1.3 1.3 0 1 0 2.6 0a1.3 1.3 0 1 0 -2.6 0zM257.5 74.1a1.3 1.3 0 1 0 2.6 0a1.3 1.3 0 1 0 -2.6 0zM259.9 74.2a1.3 1.3 0 1 0 2.6 0a1.3 1.3 0 1 0 -2.6 0z" fill="#fff" stroke="#3f9f3f" stroke-width="0.6" />
<path d="M262 74.3a1.4 1.4 0 1 0 2.7 0a1.4 1.4 0 1 0 -2.7 0zM264.1 74.3a1.4 1.4 0 1 0 2.7 0a1.4 1.4 0 1 0 -2.7 0zM266 74.4a1.4 1.4 0 1 0 2.7 0a1.4 1.4 0 1 0 -2.7 0zM267.8 74.4a1.4 1.4 0 1 0 2.7 0a1.4 1.4 0 1 0 -2.7 0zM269.5 74.5a1.4 1.4 0 1 0 2.7 0a1.4 1.4 0 1 0 -2.7 0zM271.1 74.5a1.4 1.4 0 1 0 2.7 0a1.4 1.4 0 1 0 -2.7 0zM272.5 74.6a1.4 1.4 0 1 0 2.7 0a1.4 1.4 0 1 0 -2.7 0zM273.9 74.7a1.4 1.4 0 1 0 2.7 0a1.4 1.4 0 1 0 -2.7 0zM275.2 74.7a1.4 1.4 0 1 0 2.7 0a1.4 1.4 0 1 0 -2.7 0zM276.5 74.8a1.4 1.4 0 1 0 2.7 0a1.4 1.4 0 1 0 -2.7 0zM277.8 74.9a1.4 1.4 0 1 0 2.7 0a1.4 1.4 0 1 0 -2.7 0zM279.1 75.1a1.4 1.4 0 1 0 2.7 0a1.4 1.4 0 1 0 -2.7 0zM280.4 75.2a1.4 1.4 0 1 0 2.7 0a1.4 1.4 0 1 0 -2.7 0zM281.6 75.3a1.4 1.4 0 1 0 2.7 0a1.4 1.4 0 1 0 -2.7 0zM282.9 75.5a1.4 1.4 0 1 0 2.7 0a1.4 1.4 0 1 0 -2.7 0zM284.2 75.6a1.4 1.4 0 1 0 2.7 0a1.4 1.4 0 1 0 -2.7 0zM285.5 75.8a1.4 1.4 0 1 0 2.7 0a1.4 1.4 0 1 0 -2.7 0zM286.8 75.9a1.4 1.4 0 1 0 2.7 0a1.4 1.4 0 1 0 -2.7 0zM288.1 76.1a1.4 1.4 0 1 0 2.7 0a1.4 1.4 0 1 0 -2.7 0zM289.3 76.2a1.4 1.4 0 1 0 2.7 0a1.4 1.4 0 1 0 -2.7 0zM290.6 76.4a1.4 1.4 0 1 0 2.7 0a1.4 1.4 0 1 0 -2.7 0zM291.9 76.5a1.4 1.4 0 1 0 2.7 0a1.4 1.4 0 1 0 -2.7 0zM293.2 76.6a1.4 1.4 0 1 0 2.7 0a1.4 1.4 0 1 0 -2.7 0zM294.5 76.7a1.4 1.4 0 1 0 2.7 0a1.4 1.4 0 1 0 -2.7 0zM295.7 76.9a1.4 1.4 0 1 0 2.7 0a1.4 1.4 0 1 0 -2.7 0zM297 77a1.4 1.4 0 1 0 2.7 0a1.4 1.4 0 1 0 -2.7 0zM298.3 77.2a1.4 1.4 0 1 0 2.7 0a1.4 1.4 0 1 0 -2.7 0zM299.6 77.3a1.4 1.4 0 1 0 2.7 0a1.4 1.4 0 1 0 -2.7 0zM300.8 77.4a1.4 1.4 0 1 0 2.7 0a1.4 1.4 0 1 0 -2.7 0zM302.1 77.6a1.4 1.4 0 1 0 2.7 0a1.4 1.4 0 1 0 -2.7 0zM303.4 77.7a1.4 1.4 0 1 0 2.7 0a1.4 1.4 0 1 0 -2.7 0zM304.7 77.8a1.4 1.4 0 1 0 2.7 0a1.4 1.4 0 1 0 -2.7 0zM305.9 77.9a1.4 1.4 0 1 0 2.7 0a1.4 1.4 0 1 0 -2.7 0zM307.2 78.1a1.4 1.4 0 1 0 2.7 0a1.4 1.4 0 1 0 -2.7 0zM308.5 78.2a1.4 1.4 0 1 0 2.7 0a1.4 1.4 0 1 0 -2.7 0zM309.7 78.3a1.4 1.4 0 1 0 2.7 0a1.4 1.4 0 1 0 -2.7 0zM311 78.4a1.4 1.4 0 1 0 2.7 0a1.4 1.4 0 1 0 -2.7 0zM312.3 78.5a1.4 1.4 0 1 0 2.7 0a1.4 1.4 0 1 0 -2.7 0zM313.5 78.6a1.4 1.4 0 1 0 2.7 0a1.4 1.4 0 1 0 -2.7 0zM314.8 78.7a1.4 1.4 0 1 0 2.7 0a1.4 1.4 0 1 0 -2.7 0zM316.1 78.7a1.4 1.4 0 1 0 2.7 0a1.4 1.4 0 1 0 -2.7 0zM317.3 78.8a1.4 1.4 0 1 0 2.7 0a1.4 1.4 0 1 0 -2.7 0zM318.6 78.9a1.4 1.4 0 1 0 2.7 0a1.4 1.4 0 1 0 -2.7 0zM319.9 79a1.4 1.4 0 1 0 2.7 0a1.4 1.4 0 1 0 -2.7 0zM321.1 79.1a1.4 1.4 0 1 0 2.7 0a1.4 1.4 0 1 0 -2.7 0zM322.4 79.2a1.4 1.4 0 1 0 2.7 0a1.4 1.4 0 1 0 -2.7 0zM323.6 79.2a1.4 1.4 0 1 0 2.7 0a1.4 1.4 0 1 0 -2.7 0zM324.9 79.3a1.4 1.4 0 1 0 2.7 0a1.4 1.4 0 1 0 -2.7 0zM326.2 79.4a1.4 1.4 0 1 0 2.7 0a1.4 1.4 0 1 0 -2.7 0zM327.4 79.4a1.4 1.4 0 1 0 2.7 0a1.4 1.4 0 1 0 -2.7 0zM328.7 79.5a1.4 1.4 0 1 0 2.7 0a1.4 1.4 0 1 0 -2.7 0zM329.9 79.6a1.4 1.4 0 1 0 2.7 0a1.4 1.4 0 1 0 -2.7 0zM331.2 79.6a1.4 1.4 0 1 0 2.7 0a1.4 1.4 0 1 0 -2.7 0zM332.5 79.7a1.4 1.4 0 1 0 2.7 0a1.4 1.4 0 1 0 -2.7 0zM333.7 79.7a1.4 1.4 0 1 0 2.7 0a1.4 1.4 0 1 0 -2.7 0zM335 79.7a1.4 1.4 0 1 0 2.7 0a1.4 1.4 0 1 0 -2.7 0zM336.2 79.8a1.4 1.4 0 1 0 2.7 0a1.4 1.4 0 1 0 -2.7 0zM337.5 79.8a1.4 1.4 0 1 0 2.7 0a1.4 1.4 0 1 0 -2.7 0zM338.7 79.9a1.4 1.4 0 1 0 2.7 0a1.4 1.4 0 1 0 -2.7 0zM340 79.9a1.4 1.4 0 1 0 2.7 0a1.4 1.4 0 1 0 -2.7 0zM341.2 79.9a1.4 1.4 0 1 0 2.7 0a1.4 1.4 0 1 0 -2.7 0zM342.5 80a1.4 1.4 0 1 0 2.7 0a1.4 1.4 0 1 0 -2.7 0zM343.7 80a1.4 1.4 0 1 0 2.7 0a1.4 1.4 0 1 0 -2.7 0zM345 80.1a1.4 1.4 0 1 0 2.7 0a1.4 1.4 0 1 0 -2.7 0zM346.2 80.1a1.4 1.4 0 1 0 2.7 0a1.4 1.4 0 1 0 -2.7 0zM347.4 80.1a1.4 1.4 0 1 0 2.7 0a1.4 1.4 0 1 0 -2.7 0zM348.7 80.2a1.4 1.4 0 1 0 2.7 0a1.4 1.4 0 1 0 -2.7 0zM349.9 80.2a1.4 1.4 0 1 0 2.7 0a1.4 1.4 0 1 0 -2.7 0zM351.2 80.3a1.4 1.4 0 1 0 2.7 0a1.4 1.4 0 1 0 -2.7 0zM352.4 80.3a1.4 1.4 0 1 0 2.7 0a1.4 1.4 0 1 0 -2.7 0zM353.7 80.3a1.4 1.4 0 1 0 2.7 0a1.4 1.4 0 1 0 -2.7 0zM354.9 80.4a1.4 1.4 0 1 0 2.7 0a1.4 1.4 0 1 0 -2.7 0zM356.1 80.4a1.4 1.4 0 1 0 2.7 0a1.4 1.4 0 1 0 -2.7 0zM357.4 80.4a1.4 1.4 0 1 0 2.7 0a1.4 1.4 0 1 0 -2.7 0zM358.6 80.5a1.4 1.4 0 1 0 2.7 0a1.4 1.4 0 1 0 -2.7 0zM359.8 80.5a1.4 1.4 0 1 0 2.7 0a1.4 1.4 0 1 0 -2.7 0zM361.1 80.5a1.4 1.4 0 1 0 2.7 0a1.4 1.4 0 1 0 -2.7 0zM362.3 80.6a1.4 1.4 0 1 0 2.7 0a1.4 1.4 0 1 0 -2.7 0zM363.5 80.6a1.4 1.4 0 1 0 2.7 0a1.4 1.4 0 1 0 -2.7 0zM364.8 80.6a1.4 1.4 0 1 0 2.7 0a1.4 1.4 0 1 0 -2.7 0zM366 80.7a1.4 1.4 0 1 0 2.7 0a1.4 1.4 0 1 0 -2.7 0zM367.2 80.7a1.4 1.4 0 1 0 2.7 0a1.4 1.4 0 1 0 -2.7 0zM368.5 80.7a1.4 1.4 0 1 0 2.7 0a1.4 1.4 0 1 0 -2.7 0zM369.7 80.8a1.4 1.4 0 1 0 2.7 0a1.4 1.4 0 1 0 -2.7 0zM370.9 80.8a1.4 1.4 0 1 0 2.7 0a1.4 1.4 0 1 0 -2.7 0zM372.1 80.8a1.4 1.4 0 1 0 2.7 0a1.4 1.4 0 1 0 -2.7 0zM373.4 80.8a1.4 1.4 0 1 0 2.7 0a1.4 1.4 0 1 0 -2.7 0zM374.6 80.9a1.4 1.4 0 1 0 2.7 0a1.4 1.4 0 1 0 -2.7 0zM375.8 80.9a1.4 1.4 0 1 0 2.7 0a1.4 1.4 0 1 0 -2.7 0zM377 80.9a1.4 1.4 0 1 0 2.7 0a1.4 1.4 0 1 0 -2.7 0zM378.3 80.9a1.4 1.4 0 1 0 2.7 0a1.4 1.4 0 1 0 -2.7 0zM379.5 81a1.4 1.4 0 1 0 2.7 0a1.4 1.4 0 1 0 -2.7 0zM380.7 81a1.4 1.4 0 1 0 2.7 0a1.4 1.4 0 1 0 -2.7 0zM381.9 81a1.4 1.4 0 1 0 2.7 0a1.4 1.4 0 1 0 -2.7 0zM383.1 81a1.4 1.4 0 1 0 2.7 0a1.4 1.4 0 1 0 -2.7 0zM384.4 81a1.4 1.4 0 1 0 2.7 0a1.4 1.4 0 1 0 -2.7 0zM385.6 81.1a1.4 1.4 0 1 0 2.7 0a1.4 1.4 0 1 0 -2.7 0zM386.8 81.1a1.4 1.4 0 1 0 2.7 0a1.4 1.4 0 1 0 -2.7 0zM388 81.1a1.4 1.4 0 1 0 2.7 0a1.4 1.4 0 1 0 -2.7 0zM389.2 81.1a1.4 1.4 0 1 0 2.7 0a1.4 1.4 0 1 0 -2.7 0zM390.4 81.1a1.4 1.4 0 1 0 2.7 0a1.4 1.4 0 1 0 -2.7 0zM391.6 81.1a1.4 1.4 0 1 0 2.7 0a1.4 1.4 0 1 0 -2.7 0zM392.8 81.1a1.4 1.4 0 1 0 2.7 0a1.4 1.4 0 1 0 -2.7 0zM394.1 81.1a1.4 1.4 0 1 0 2.7 0a1.4 1.4 0 1 0 -2.7 0zM395.3 81.2a1.4 1.4 0 1 0 2.7 0a1.4 1.4 0 1 0 -2.7 0zM396.5 81.2a1.4 1.4 0 1 0 2.7 0a1.4 1.4 0 1 0 -2.7 0zM397.7 81.2a1.4 1.4 0 1 0 2.7 0a1.4 1.4 0 1 0 -2.7 0zM398.9 81.2a1.4 1.4 0 1 0 2.7 0a1.4 1.4 0 1 0 -2.7 0zM400.1 81.2a1.4 1.4 0 1 0 2.7 0a1.4 1.4 0 1 0 -2.7 0zM401.3 81.2a1.4 1.4 0 1 0 2.7 0a1.4 1.4 0 1 0 -2.7 0zM402.5 81.2a1.4 1.4 0 1 0 2.7 0a1.4 1.4 0 1 0 -2.7 0zM403.7 81.2a1.4 1.4 0 1 0 2.7 0a1.4 1.4 0 1 0 -2.7 0zM404.9 81.2a1.4 1.4 0 1 0 2.7 0a1.4 1.4 0 1 0 -2.7 0z" fill="#d0e8d0" stroke="#2a942a" stroke-width="0.6" />
<path d="M316.4 81.4h4M323 81.5h3.2" stroke="#ff0000" stroke-width="2"/>
</g>
<path d="M147.6 116.7L159.9 127.6M170.3 138.5L182.4 148.9" stroke="#000" stroke-width="2.3" fill="none"/>
<path d="M198.4 164.1L188.3 159L193 154.6z" fill="#000" stroke="#000" stroke-width="1" stroke-linejoin="round"/>
<g id="bot">
<polyline points="88.6,564.3 89.6,564.3 90.6,564.3 91.6,564.3 92.6,564.3 93.6,564.3 94.6,564.3 95.6,564.3 96.6,564.3 97.6,564.3 98.6,564.3 99.6,564.3 100.6,564.2 101.6,564.2 102.6,564.2 103.6,564.2 104.6,564.2 105.6,564.2 106.6,564.2 107.6,564.2 108.6,564.2 109.6,564.1 110.6,564.1 111.6,564.1 112.6,564.1 113.6,564.1 114.6,564.1 115.6,564 116.6,564 117.6,564 118.6,564 119.6,564 120.6,563.9 121.6,563.9 122.6,563.9 123.6,563.8 124.6,563.8 125.6,563.7 126.6,563.7 127.6,563.6 128.6,563.5 129.6,563.4 130.6,563.3 131.6,563.2 132.6,563.1 133.6,563 134.6,562.9 135.5,562.8 136.5,562.7 137.5,562.5 138.5,562.4 139.5,562.3 140.5,562.2 141.5,562.1 142.5,562 143.5,561.9 144.5,561.7 145.5,561.6 146.5,561.4 147.5,561.3 148.4,561.1 149.4,560.9 150.4,560.7 151.4,560.5 152.3,560.2 153.3,559.9 154.2,559.5 155.1,559.1 156.1,558.7 157,558.3 157.9,557.9 158.8,557.5 159.7,557 160.6,556.6 161.4,556.1 162.3,555.6 163.2,555.2 164.1,554.7 165,554.3 165.9,553.8 166.7,553.3 167.6,552.8 168.5,552.3 169.3,551.7 170.1,551.2 171,550.7 171.8,550.1 172.7,549.6 173.5,549 174.3,548.5 175.2,547.9 176,547.3 176.8,546.8 177.6,546.2 178.4,545.6 179.2,545 180,544.4 180.8,543.8 181.6,543.2 182.4,542.6 183.2,542 184,541.4 184.8,540.8 185.6,540.2 186.4,539.6 187.2,539 188,538.3 188.8,537.7 189.5,537.1 190.3,536.4 191.1,535.8 191.8,535.1 192.6,534.5 193.3,533.8 194.1,533.2 194.8,532.5 195.6,531.8 196.3,531.1 197,530.4 197.7,529.8 198.5,529.1 199.2,528.4 199.9,527.6 200.6,526.9 201.3,526.2 202,525.5 202.7,524.8 203.3,524 204,523.3 204.7,522.6 205.4,521.9 206.1,521.1 206.8,520.4 207.5,519.7 208.1,518.9 208.8,518.2 209.5,517.5 210.2,516.7 210.9,516 211.5,515.3 212.2,514.5 212.9,513.8 213.6,513.1 214.2,512.3 214.9,511.6 215.6,510.9 216.3,510.1 217,509.4 217.6,508.6 218.3,507.9 219,507.2 219.6,506.4 220.3,505.7 221,504.9 221.6,504.2 222.3,503.4 222.9,502.7 223.6,501.9 224.2,501.2 224.9,500.4 225.5,499.6 226.2,498.8 226.8,498.1 227.4,497.3 228.1,496.5 228.7,495.8 229.4,495 230,494.3 230.7,493.5 231.3,492.7 232,492 232.7,491.3 233.3,490.5 234,489.8 234.7,489.1 235.4,488.3 236.1,487.6 236.8,486.9 237.5,486.2 238.2,485.4 238.9,484.7 239.6,484 240.3,483.3 241,482.6 241.7,481.9 242.3,481.1 243,480.4 243.7,479.7 244.4,479 245.1,478.3 245.8,477.6 246.5,476.9 247.2,476.1 248,475.4 248.7,474.7 249.4,474 250.1,473.3 250.8,472.6 251.5,471.9 252.2,471.2 252.9,470.5 253.6,469.8 254.3,469 255,468.3 255.7,467.6 256.4,466.9 257.1,466.2 257.8,465.5 258.5,464.8 259.2,464.1 259.9,463.3 260.6,462.6 261.3,461.9 262,461.2 262.7,460.5 263.4,459.8 264.1,459.1 264.8,458.4 265.5,457.7 266.2,456.9 266.9,456.2 267.6,455.5 268.3,454.8 269,454.1 269.7,453.4 270.4,452.7 271.1,451.9 271.8,451.2 272.5,450.5 273.2,449.8 273.9,449.1 274.6,448.4 275.3,447.6 276,446.9 276.7,446.2 277.4,445.5 278.1,444.8 278.8,444.1 279.5,443.3 280.2,442.6 280.9,441.9 281.6,441.2 282.3,440.5 283,439.7 283.7,439 284.3,438.3 285,437.6 285.7,436.8 286.4,436.1 287.1,435.4 287.8,434.6 288.5,433.9 289.1,433.2 289.8,432.4 290.5,431.7 291.1,431 291.8,430.2 292.5,429.5 293.1,428.7 293.8,428 294.4,427.2 295.1,426.4 295.7,425.7 296.4,424.9 297,424.2 297.7,423.4 298.3,422.6 299,421.9 299.6,421.1 300.3,420.3 300.9,419.6 301.6,418.8 302.2,418 302.8,417.3 303.5,416.5 304.1,415.7 304.8,415 305.4,414.2 306.1,413.5 306.7,412.7 307.4,411.9 308,411.2 308.7,410.4 309.3,409.7 310,408.9 310.6,408.1 311.3,407.4 311.9,406.6 312.6,405.9 313.2,405.1 313.9,404.3 314.5,403.6 315.2,402.8 315.8,402.1 316.5,401.3 317.1,400.5 317.7,399.7 318.3,399 319,398.2 319.6,397.4 320.2,396.6 320.9,395.9 321.5,395.1 322.2,394.4 322.9,393.6 323.6,392.9 324.3,392.2 325,391.6 325.8,390.9 326.6,390.2 327.3,389.6 328.1,389 328.9,388.4 329.7,387.7 330.5,387.1 331.3,386.5 332.1,385.9 332.9,385.3 333.7,384.7 334.5,384.1 335.3,383.6 336.1,383 336.9,382.4 337.8,381.8 338.6,381.3 339.5,380.8 340.3,380.3 341.2,379.9 342.1,379.5 343.1,379.1 344,378.7 344.9,378.3 345.9,378 346.8,377.7 347.8,377.4 348.7,377.1 349.7,376.8 350.7,376.6 351.6,376.3 352.6,376.1 353.6,375.9 354.6,375.7 355.5,375.5 356.5,375.3 357.5,375.1 358.5,374.8 359.4,374.6 360.4,374.4 361.4,374.2 362.4,374 363.4,373.8 364.3,373.6 365.3,373.5 366.3,373.3 367.3,373.1 368.3,372.9 369.3,372.7 370.2,372.6 371.2,372.4 372.2,372.2 373.2,372.1 374.2,371.9 375.2,371.8 376.2,371.6 377.2,371.5 378.1,371.3 379.1,371.2 380.1,371 381.1,370.9 382.1,370.8 383.1,370.7 384.1,370.5 385.1,370.4 386.1,370.3 387.1,370.1 388.1,370 389.1,369.9 390,369.7 391,369.6 392,369.5 393,369.4 394,369.2 395,369.1" fill="none" stroke="#0a840a" stroke-width="4.6" stroke-linejoin="round" stroke-linecap="round"/>
<path d="M88.6 561.4l2.3 3.8h-4.6zM90.5 561.4l2.3 3.8h-4.6zM92.4 561.4l2.3 3.8h-4.6zM94.3 561.4l2.3 3.8h-4.6zM96.2 561.4l2.3 3.8h-4.6zM98.2 561.3l2.3 3.8h-4.6zM100.1 561.3l2.3 3.8h-4.6zM102 561.3l2.3 3.8h-4.6zM104 561.2l2.3 3.8h-4.6zM105.9 561.2l2.3 3.8h-4.6zM107.8 561.1l2.3 3.8h-4.6zM109.8 561.1l2.3 3.8h-4.6zM111.7 561l2.3 3.8h-4.6zM113.7 560.9l2.3 3.8h-4.6zM115.6 560.9l2.3 3.8h-4.6zM117.6 560.8l2.3 3.8h-4.6zM119.5 560.7l2.3 3.8h-4.6zM121.5 560.6l2.3 3.8h-4.6zM123.5 560.5l2.3 3.8h-4.6zM125.4 560.3l2.3 3.8h-4.6zM127.4 560l2.3 3.8h-4.6zM129.4 559.6l2.3 3.8h-4.6zM131.3 559.3l2.3 3.8h-4.6zM133.3 558.8l2.3 3.8h-4.6zM135.2 558.4l2.3 3.8h-4.6zM137.2 558l2.3 3.8h-4.6zM139.4 557.6l2.3 3.8h-4.6zM141.8 557.2l2.3 3.8h-4.6zM144.4 556.8l2.3 3.8h-4.6zM147.3 556.2l2.3 3.8h-4.6zM150.4 555.4l2.3 3.8h-4.6zM153.6 553.8l2.3 3.8h-4.6zM157 551.4l2.3 3.8h-4.6zM160.8 548.5l2.3 3.8h-4.6zM165.2 545.3l2.3 3.8h-4.6zM170.3 541.8l2.3 3.8h-4.6zM175.2 538.1l2.3 3.8h-4.6zM180 534.1l2.3 3.8h-4.6zM184.6 530l2.3 3.8h-4.6zM189.2 526l2.3 3.8h-4.6zM194.1 522.3l2.3 3.8h-4.6zM198.8 518.3l2.3 3.8h-4.6zM203.2 514.1l2.3 3.8h-4.6zM207.6 509.8l2.3 3.8h-4.6zM211.8 505.4l2.3 3.8h-4.6zM215.9 501l2.3 3.8h-4.6zM220.1 496.5l2.3 3.8h-4.6zM224.4 492.3l2.3 3.8h-4.6zM228.9 488.3l2.3 3.8h-4.6zM233.6 484.4l2.3 3.8h-4.6zM238.2 480.5l2.3 3.8h-4.6zM242.7 476.6l2.3 3.8h-4.6zM247.2 472.5l2.3 3.8h-4.6zM251.2 468.9l2.3 3.8h-4.6zM254.4 465.9l2.3 3.8h-4.6zM257 463.4l2.3 3.8h-4.6zM259.4 461.1l2.3 3.8h-4.6zM261.8 458.7l2.3 3.8h-4.6zM264.3 456.4l2.3 3.8h-4.6zM266.6 454l2.3 3.8h-4.6zM269 451.6l2.3 3.8h-4.6zM271.4 449.3l2.3 3.8h-4.6zM273.7 446.9l2.3 3.8h-4.6zM276 444.5l2.3 3.8h-4.6zM278.3 442.2l2.3 3.8h-4.6zM280.6 439.8l2.3 3.8h-4.6zM282.9 437.4l2.3 3.8h-4.6zM285.2 435.1l2.3 3.8h-4.6zM287.4 432.7l2.3 3.8h-4.6zM289.6 430.3l2.3 3.8h-4.6zM291.8 427.9l2.3 3.8h-4.6zM293.9 425.4l2.3 3.8h-4.6zM296 422.9l2.3 3.8h-4.6zM298.1 420.5l2.3 3.8h-4.6zM300.1 418.1l2.3 3.8h-4.6zM302.2 415.6l2.3 3.8h-4.6zM304.3 413.2l2.3 3.8h-4.6zM306.4 410.8l2.3 3.8h-4.6zM308.5 408.4l2.3 3.8h-4.6zM310.7 406.1l2.3 3.8h-4.6zM312.8 403.7l2.3 3.8h-4.6zM315 401.4l2.3 3.8h-4.6zM317.2 399.1l2.3 3.8h-4.6zM319.4 396.8l2.3 3.8h-4.6zM321.6 394.6l2.3 3.8h-4.6zM324 392.5l2.3 3.8h-4.6zM326.4 390.4l2.3 3.8h-4.6zM328.8 388.4l2.3 3.8h-4.6zM331.3 386.6l2.3 3.8h-4.6zM333.9 384.8l2.3 3.8h-4.6zM336.6 383.1l2.3 3.8h-4.6zM339.3 381.6l2.3 3.8h-4.6zM342.1 380.2l2.3 3.8h-4.6zM344.9 378.9l2.3 3.8h-4.6zM347.8 377.7l2.3 3.8h-4.6zM350.7 376.6l2.3 3.8h-4.6zM353.6 375.5l2.3 3.8h-4.6zM356.6 374.6l2.3 3.8h-4.6zM359.6 373.9l2.3 3.8h-4.6zM362.7 373.3l2.3 3.8h-4.6zM365.7 372.8l2.3 3.8h-4.6zM368.7 372.3l2.3 3.8h-4.6zM371.8 371.8l2.3 3.8h-4.6zM374.8 371.3l2.3 3.8h-4.6zM377.8 370.7l2.3 3.8h-4.6zM380.8 370.2l2.3 3.8h-4.6zM383.8 369.7l2.3 3.8h-4.6zM386.8 369.2l2.3 3.8h-4.6zM389.8 368.8l2.3 3.8h-4.6zM392.8 368.4l2.3 3.8h-4.6zM395.8 368l2.3 3.8h-4.6zM398.8 367.7l2.3 3.8h-4.6zM401.8 367.4l2.3 3.8h-4.6zM404.8 367.2l2.3 3.8h-4.6z" fill="#fff" stroke="#1a1aff" stroke-width="0.7" />
<path d="M299 423l5-5.5" stroke="#0000ff" stroke-width="3.2"/>
<path d="M85.5 535.5h8v8h-8zM86.5 535.5h8v8h-8zM87.5 535.5h8v8h-8zM88.5 535.5h8v8h-8zM89.5 535.5h8v8h-8zM90.5 535.5h8v8h-8zM90.5 535.5h8v8h-8zM91.5 535.5h8v8h-8zM92.5 535.5h8v8h-8zM93.5 535.5h8v8h-8zM94.5 535.5h8v8h-8zM95.5 535.5h8v8h-8zM96.5 535.5h8v8h-8zM97.5 535.5h8v8h-8zM98.5 535.5h8v8h-8zM99.5 535.5h8v8h-8zM100.5 535.5h8v8h-8zM101.5 535.5h8v8h-8zM102.5 535.5h8v8h-8zM103.5 535.5h8v8h-8zM103.5 535.5h8v8h-8zM104.5 535.5h8v8h-8zM105.5 535.5h8v8h-8zM106.5 535.5h8v8h-8zM107.5 535.5h8v8h-8zM108.5 535.5h8v8h-8zM109.5 535.5h8v8h-8zM110.5 535.5h8v8h-8zM111.5 535.5h8v8h-8zM112.5 535.5h8v8h-8zM113.5 535.5h8v8h-8zM114.5 535.5h8v8h-8z" fill="#ff0000" stroke="#ff0000" stroke-width="1.0" />
<path d="M116.5 537.5h6v6h-6zM117.5 537.5h6v6h-6zM118.5 536.5h6v6h-6zM119.5 536.5h6v6h-6zM120.5 536.5h6v6h-6zM121.5 536.5h6v6h-6zM122.5 536.5h6v6h-6zM123.5 536.5h6v6h-6zM124.5 536.5h6v6h-6zM125.5 536.5h6v6h-6zM126.5 536.5h6v6h-6zM127.5 536.5h6v6h-6zM128.5 536.5h6v6h-6zM129.5 536.5h6v6h-6zM130.5 536.5h6v6h-6zM130.5 536.5h6v6h-6zM131.5 536.5h6v6h-6zM132.5 535.5h6v6h-6zM133.5 535.5h6v6h-6zM134.5 535.5h6v6h-6zM135.5 535.5h6v6h-6zM136.5 535.5h6v6h-6zM137.5 534.5h6v6h-6zM138.5 534.5h6v6h-6zM140.5 534.5h6v6h-6zM141.5 533.5h6v6h-6zM143.5 533.5h6v6h-6z" fill="#ff0000" stroke="#ff0000" stroke-width="1.0" />
<path d="M146.5 532.5h4.6v4.6h-4.6zM148.5 531.5h4.6v4.6h-4.6zM150.5 530.5h4.6v4.6h-4.6zM153.5 529.5h4.6v4.6h-4.6zM155.5 528.5h4.6v4.6h-4.6zM158.5 526.5h4.6v4.6h-4.6zM160.5 525.5h4.6v4.6h-4.6zM162.5 523.5h4.6v4.6h-4.6zM164.5 521.5h4.6v4.6h-4.6zM166.5 520.5h4.6v4.6h-4.6zM168.5 518.5h4.6v4.6h-4.6zM170.5 516.5h4.6v4.6h-4.6zM172.5 514.5h4.6v4.6h-4.6zM173.5 512.5h4.6v4.6h-4.6zM175.5 510.5h4.6v4.6h-4.6zM177.5 508.5h4.6v4.6h-4.6zM179.5 506.5h4.6v4.6h-4.6zM181.5 504.5h4.6v4.6h-4.6zM183.5 502.5h4.6v4.6h-4.6zM185.5 500.5h4.6v4.6h-4.6zM187.5 498.5h4.6v4.6h-4.6zM189.5 496.5h4.6v4.6h-4.6zM191.5 495.5h4.6v4.6h-4.6zM193.5 493.5h4.6v4.6h-4.6zM195.5 491.5h4.6v4.6h-4.6zM197.5 489.5h4.6v4.6h-4.6zM199.5 487.5h4.6v4.6h-4.6zM201.5 486.5h4.6v4.6h-4.6zM203.5 484.5h4.6v4.6h-4.6zM205.5 482.5h4.6v4.6h-4.6zM207.5 480.5h4.6v4.6h-4.6zM209.5 478.5h4.6v4.6h-4.6zM211.5 477.5h4.6v4.6h-4.6zM213.5 475.5h4.6v4.6h-4.6zM215.5 473.5h4.6v4.6h-4.6zM217.5 472.5h4.6v4.6h-4.6zM219.5 470.5h4.6v4.6h-4.6zM222.5 468.5h4.6v4.6h-4.6zM224.5 467.5h4.6v4.6h-4.6zM226.5 466.5h4.6v4.6h-4.6zM229.5 465.5h4.6v4.6h-4.6zM231.5 463.5h4.6v4.6h-4.6zM233.5 461.5h4.6v4.6h-4.6zM235.5 460.5h4.6v4.6h-4.6zM237.5 458.5h4.6v4.6h-4.6zM239.5 457.5h4.6v4.6h-4.6zM242.5 455.5h4.6v4.6h-4.6zM244.5 453.5h4.6v4.6h-4.6zM246.5 452.5h4.6v4.6h-4.6zM248.5 450.5h4.6v4.6h-4.6zM251.5 449.5h4.6v4.6h-4.6zM253.5 447.5h4.6v4.6h-4.6zM255.5 446.5h4.6v4.6h-4.6zM257.5 444.5h4.6v4.6h-4.6zM259.5 442.5h4.6v4.6h-4.6zM261.5 441.5h4.6v4.6h-4.6zM264.5 439.5h4.6v4.6h-4.6zM266.5 438.5h4.6v4.6h-4.6zM268.5 436.5h4.6v4.6h-4.6zM270.5 434.5h4.6v4.6h-4.6zM272.5 433.5h4.6v4.6h-4.6zM274.5 431.5h4.6v4.6h-4.6zM276.5 429.5h4.6v4.6h-4.6zM278.5 427.5h4.6v4.6h-4.6zM280.5 426.5h4.6v4.6h-4.6zM282.5 424.5h4.6v4.6h-4.6zM284.5 422.5h4.6v4.6h-4.6zM286.5 420.5h4.6v4.6h-4.6zM288.5 418.5h4.6v4.6h-4.6zM290.5 416.5h4.6v4.6h-4.6zM292.5 414.5h4.6v4.6h-4.6zM294.5 413.5h4.6v4.6h-4.6zM296.5 411.5h4.6v4.6h-4.6zM298.5 409.5h4.6v4.6h-4.6zM299.5 407.5h4.6v4.6h-4.6zM301.5 405.5h4.6v4.6h-4.6zM303.5 403.5h4.6v4.6h-4.6zM305.5 401.5h4.6v4.6h-4.6zM307.5 399.5h4.6v4.6h-4.6zM309.5 397.5h4.6v4.6h-4.6zM311.5 395.5h4.6v4.6h-4.6zM313.5 393.5h4.6v4.6h-4.6zM315.5 391.5h4.6v4.6h-4.6zM316.5 390.5h4.6v4.6h-4.6zM318.5 388.5h4.6v4.6h-4.6zM320.5 386.5h4.6v4.6h-4.6zM322.5 384.5h4.6v4.6h-4.6zM324.5 383.5h4.6v4.6h-4.6zM327.5 381.5h4.6v4.6h-4.6zM329.5 379.5h4.6v4.6h-4.6zM331.5 378.5h4.6v4.6h-4.6zM333.5 376.5h4.6v4.6h-4.6zM335.5 375.5h4.6v4.6h-4.6zM337.5 373.5h4.6v4.6h-4.6zM338.5 372.5h4.6v4.6h-4.6z" fill="#fff" stroke="#ff0000" stroke-width="1.25" />
<path d="M341.5 372.5h3.4v3.4h-3.4zM342.5 371.5h3.4v3.4h-3.4zM344.5 370.5h3.4v3.4h-3.4zM345.5 369.5h3.4v3.4h-3.4zM346.5 368.5h3.4v3.4h-3.4zM347.5 367.5h3.4v3.4h-3.4zM349.5 366.5h3.4v3.4h-3.4zM350.5 365.5h3.4v3.4h-3.4zM351.5 365.5h3.4v3.4h-3.4zM352.5 364.5h3.4v3.4h-3.4zM353.5 363.5h3.4v3.4h-3.4zM355.5 362.5h3.4v3.4h-3.4zM356.5 361.5h3.4v3.4h-3.4zM357.5 361.5h3.4v3.4h-3.4zM359.5 360.5h3.4v3.4h-3.4zM360.5 360.5h3.4v3.4h-3.4zM361.5 359.5h3.4v3.4h-3.4zM363.5 359.5h3.4v3.4h-3.4zM364.5 358.5h3.4v3.4h-3.4zM366.5 358.5h3.4v3.4h-3.4zM367.5 357.5h3.4v3.4h-3.4zM368.5 357.5h3.4v3.4h-3.4zM370.5 357.5h3.4v3.4h-3.4zM371.5 356.5h3.4v3.4h-3.4zM373.5 356.5h3.4v3.4h-3.4zM374.5 356.5h3.4v3.4h-3.4zM375.5 355.5h3.4v3.4h-3.4zM377.5 355.5h3.4v3.4h-3.4zM378.5 355.5h3.4v3.4h-3.4zM380.5 354.5h3.4v3.4h-3.4zM381.5 354.5h3.4v3.4h-3.4zM383.5 354.5h3.4v3.4h-3.4zM384.5 354.5h3.4v3.4h-3.4zM385.5 354.5h3.4v3.4h-3.4zM387.5 353.5h3.4v3.4h-3.4zM388.5 353.5h3.4v3.4h-3.4zM390.5 353.5h3.4v3.4h-3.4zM391.5 353.5h3.4v3.4h-3.4zM392.5 353.5h3.4v3.4h-3.4zM394.5 352.5h3.4v3.4h-3.4zM395.5 352.5h3.4v3.4h-3.4zM397.5 352.5h3.4v3.4h-3.4zM398.5 352.5h3.4v3.4h-3.4zM399.5 352.5h3.4v3.4h-3.4zM401.5 352.5h3.4v3.4h-3.4zM402.5 352.5h3.4v3.4h-3.4z" fill="#ff0000" stroke="#ff0000" stroke-width="1.0" />
<path d="M84.5 537.5h4.4v4.4h-4.4zM85.5 537.5h4.4v4.4h-4.4zM86.5 537.5h4.4v4.4h-4.4zM87.5 537.5h4.4v4.4h-4.4zM88.5 537.5h4.4v4.4h-4.4zM89.5 537.5h4.4v4.4h-4.4zM90.5 537.5h4.4v4.4h-4.4zM91.5 537.5h4.4v4.4h-4.4zM92.5 537.5h4.4v4.4h-4.4zM93.5 537.5h4.4v4.4h-4.4zM93.5 537.5h4.4v4.4h-4.4zM94.5 537.5h4.4v4.4h-4.4zM95.5 537.5h4.4v4.4h-4.4zM96.5 537.5h4.4v4.4h-4.4zM97.5 537.5h4.4v4.4h-4.4zM98.5 537.5h4.4v4.4h-4.4zM99.5 537.5h4.4v4.4h-4.4zM100.5 537.5h4.4v4.4h-4.4zM101.5 537.5h4.4v4.4h-4.4zM102.5 537.5h4.4v4.4h-4.4zM102.5 537.5h4.4v4.4h-4.4zM103.5 537.5h4.4v4.4h-4.4zM104.5 537.5h4.4v4.4h-4.4zM105.5 537.5h4.4v4.4h-4.4zM106.5 537.5h4.4v4.4h-4.4zM107.5 537.5h4.4v4.4h-4.4zM108.5 536.5h4.4v4.4h-4.4zM109.5 536.5h4.4v4.4h-4.4zM110.5 536.5h4.4v4.4h-4.4zM111.5 536.5h4.4v4.4h-4.4zM111.5 536.5h4.4v4.4h-4.4z" fill="#000" stroke="#000" stroke-width="1.4" />
<path d="M86.2 537.3h2.5v3.3h-2.5z" fill="#fff"/><path d="M93 537.5h.8v3h-.8zM97.5 537.5h.8v3h-.8zM102 537.5h.8v3h-.8zM106.5 537.5h.8v3h-.8zM110.5 537.5h.8v3h-.8z" fill="#777"/>
<path d="M113.5 536.5h4.1v4.1h-4.1zM117.5 536.5h4.1v4.1h-4.1zM121.5 536.5h4.1v4.1h-4.1zM124.5 535.5h4.1v4.1h-4.1zM128.5 535.5h4.1v4.1h-4.1zM132.5 534.5h4.1v4.1h-4.1zM135.5 532.5h4.1v4.1h-4.1zM139.5 531.5h4.1v4.1h-4.1zM142.5 528.5h4.1v4.1h-4.1zM145.5 526.5h4.1v4.1h-4.1zM148.5 523.5h4.1v4.1h-4.1zM151.5 520.5h4.1v4.1h-4.1zM153.5 517.5h4.1v4.1h-4.1zM157.5 514.5h4.1v4.1h-4.1zM161.5 510.5h4.1v4.1h-4.1zM164.5 506.5h4.1v4.1h-4.1zM168.5 502.5h4.1v4.1h-4.1zM171.5 497.5h4.1v4.1h-4.1zM176.5 494.5h4.1v4.1h-4.1zM180.5 490.5h4.1v4.1h-4.1zM184.5 487.5h4.1v4.1h-4.1zM189.5 483.5h4.1v4.1h-4.1zM194.5 480.5h4.1v4.1h-4.1zM198.5 477.5h4.1v4.1h-4.1zM203.5 475.5h4.1v4.1h-4.1zM208.5 472.5h4.1v4.1h-4.1zM213.5 469.5h4.1v4.1h-4.1zM218.5 466.5h4.1v4.1h-4.1zM222.5 463.5h4.1v4.1h-4.1zM227.5 460.5h4.1v4.1h-4.1zM232.5 457.5h4.1v4.1h-4.1zM236.5 453.5h4.1v4.1h-4.1zM241.5 450.5h4.1v4.1h-4.1zM245.5 447.5h4.1v4.1h-4.1zM250.5 444.5h4.1v4.1h-4.1zM255.5 441.5h4.1v4.1h-4.1zM260.5 438.5h4.1v4.1h-4.1zM264.5 435.5h4.1v4.1h-4.1zM269.5 432.5h4.1v4.1h-4.1zM273.5 428.5h4.1v4.1h-4.1zM278.5 425.5h4.1v4.1h-4.1zM282.5 421.5h4.1v4.1h-4.1zM285.5 417.5h4.1v4.1h-4.1zM289.5 413.5h4.1v4.1h-4.1zM293.5 409.5h4.1v4.1h-4.1zM297.5 405.5h4.1v4.1h-4.1zM301.5 401.5h4.1v4.1h-4.1zM305.5 397.5h4.1v4.1h-4.1zM309.5 393.5h4.1v4.1h-4.1zM313.5 389.5h4.1v4.1h-4.1zM317.5 385.5h4.1v4.1h-4.1zM321.5 382.5h4.1v4.1h-4.1zM325.5 378.5h4.1v4.1h-4.1zM330.5 374.5h4.1v4.1h-4.1zM334.5 371.5h4.1v4.1h-4.1zM339.5 368.5h4.1v4.1h-4.1zM343.5 365.5h4.1v4.1h-4.1zM348.5 361.5h4.1v4.1h-4.1zM352.5 358.5h4.1v4.1h-4.1zM357.5 355.5h4.1v4.1h-4.1zM362.5 353.5h4.1v4.1h-4.1zM368.5 352.5h4.1v4.1h-4.1zM373.5 351.5h4.1v4.1h-4.1zM379.5 350.5h4.1v4.1h-4.1zM385.5 349.5h4.1v4.1h-4.1zM390.5 349.5h4.1v4.1h-4.1zM396.5 348.5h4.1v4.1h-4.1zM401.5 348.5h4.1v4.1h-4.1z" fill="#fff" stroke="#000" stroke-width="1.3" />
</g>
<path d="M197.6 464Q158 482 145.3 508.3" stroke="#000" stroke-width="1.7" fill="none"/>
<path d="M141.6 516L143.1 507.1L147.7 509.4z" fill="#000" stroke="#000" stroke-width="0.6" stroke-linejoin="round"/>
<path d="M181.5 558.3Q211 541.5 225.3 516.7" stroke="#008000" stroke-width="1.7" fill="none"/>
<path d="M229.2 510L227.5 518L223.1 515.4z" fill="#008000" stroke="#008000" stroke-width="0.6" stroke-linejoin="round"/>
<path d="M59.0 59.6H407.0V323.5H59.0z" fill="none" stroke="#000" stroke-width="2.1"/>
<path d="M59.0 341.0H407.0V571.3H59.0z" fill="none" stroke="#000" stroke-width="2.1"/>
<path d="M88 59.6v4.2M88 323.5v-4.2M117 59.6v4.2M117 323.5v-4.2M146 59.6v4.2M146 323.5v-4.2M175 59.6v7.3M175 323.5v-7.3M204 59.6v4.2M204 323.5v-4.2M233 59.6v4.2M233 323.5v-4.2M262 59.6v4.2M262 323.5v-4.2M291 59.6v7.3M291 323.5v-7.3M320 59.6v4.2M320 323.5v-4.2M349 59.6v4.2M349 323.5v-4.2M378 59.6v4.2M378 323.5v-4.2M59.0 283.5h4.2M407.0 283.5h-4.2M59.0 243.5h7.3M407.0 243.5h-7.3M59.0 203.5h4.2M407.0 203.5h-4.2M59.0 163.5h7.3M407.0 163.5h-7.3M59.0 123.5h4.2M407.0 123.5h-4.2M59.0 83.5h7.3M407.0 83.5h-7.3M117 341.0v4.2M117 571.3v-4.2M175 341.0v7.3M175 571.3v-7.3M233 341.0v4.2M233 571.3v-4.2M291 341.0v7.3M291 571.3v-7.3M349 341.0v4.2M349 571.3v-4.2M59.0 535.3h4.2M407.0 535.3h-4.2M59.0 499.4h7.3M407.0 499.4h-7.3M59.0 463.4h4.2M407.0 463.4h-4.2M59.0 427.5h7.3M407.0 427.5h-7.3M59.0 391.5h4.2M407.0 391.5h-4.2M59.0 355.6h7.3M407.0 355.6h-7.3" stroke="#000" stroke-width="1.9" fill="none"/>
<g opacity="0.999">
<text transform="translate(59,48.8) scale(0.94,1)" font-size="20" text-anchor="middle" fill="#000" stroke="#000" stroke-width="0.3" font-weight="normal" >0</text>
<text transform="translate(175,48.8) scale(0.94,1)" font-size="20" text-anchor="middle" fill="#000" stroke="#000" stroke-width="0.3" font-weight="normal" >5</text>
<text transform="translate(291,48.8) scale(0.94,1)" font-size="20" text-anchor="middle" fill="#000" stroke="#000" stroke-width="0.3" font-weight="normal" >10</text>
<text transform="translate(407,48.8) scale(0.94,1)" font-size="20" text-anchor="middle" fill="#000" stroke="#000" stroke-width="0.3" font-weight="normal" >15</text>
<text transform="translate(235.7,14.6) scale(1.0,1)" font-size="20" text-anchor="middle" fill="#000" stroke="#000" stroke-width="0.3" font-weight="normal" >T [K]</text>
<text transform="translate(51.5,88.8) scale(0.94,1)" font-size="20" text-anchor="end" fill="#000" stroke="#000" stroke-width="0.3" font-weight="normal" >0,5</text>
<text transform="translate(51.5,168.8) scale(0.94,1)" font-size="20" text-anchor="end" fill="#000" stroke="#000" stroke-width="0.3" font-weight="normal" >0,4</text>
<text transform="translate(51.5,248.8) scale(0.94,1)" font-size="20" text-anchor="end" fill="#000" stroke="#000" stroke-width="0.3" font-weight="normal" >0,3</text>
<text transform="translate(51.5,328.8) scale(0.94,1)" font-size="20" text-anchor="end" fill="#000" stroke="#000" stroke-width="0.3" font-weight="normal" >0,2</text>
<text transform="translate(51.5,360.90000000000003) scale(0.94,1)" font-size="20" text-anchor="end" fill="#000" stroke="#000" stroke-width="0.3" font-weight="normal" >5</text>
<text transform="translate(51.5,432.8) scale(0.94,1)" font-size="20" text-anchor="end" fill="#000" stroke="#000" stroke-width="0.3" font-weight="normal" >4</text>
<text transform="translate(51.5,504.7) scale(0.94,1)" font-size="20" text-anchor="end" fill="#000" stroke="#000" stroke-width="0.3" font-weight="normal" >3</text>
<text transform="translate(51.5,576.5999999999999) scale(0.94,1)" font-size="20" text-anchor="end" fill="#000" stroke="#000" stroke-width="0.3" font-weight="normal" >2</text>
<text transform="translate(59,595.4) scale(0.94,1)" font-size="20" text-anchor="middle" fill="#000" stroke="#000" stroke-width="0.3" font-weight="normal" >0</text>
<text transform="translate(175,595.4) scale(0.94,1)" font-size="20" text-anchor="middle" fill="#000" stroke="#000" stroke-width="0.3" font-weight="normal" >2</text>
<text transform="translate(291,595.4) scale(0.94,1)" font-size="20" text-anchor="middle" fill="#000" stroke="#000" stroke-width="0.3" font-weight="normal" >4</text>
<text transform="translate(407,595.4) scale(0.94,1)" font-size="20" text-anchor="middle" fill="#000" stroke="#000" stroke-width="0.3" font-weight="normal" >6</text>
<text transform="translate(239,616.9) scale(1.0,1)" font-size="21" text-anchor="middle" fill="#000" stroke="#000" stroke-width="0.3" font-weight="normal" textLength="43.6" lengthAdjust="spacing">T [K]</text>
<text transform="translate(222,188.1) scale(0.96,1)" font-size="20.8" text-anchor="start" fill="#008000" stroke="#008000" stroke-width="0.3" font-weight="normal" >B = 0.2T</text>
<text transform="translate(222,212.6) scale(0.96,1)" font-size="20.8" text-anchor="start" fill="#808000" stroke="#808000" stroke-width="0.3" font-weight="normal" >B = 0.5T</text>
<text transform="translate(222,237.1) scale(0.96,1)" font-size="20.8" text-anchor="start" fill="#0000ff" stroke="#0000ff" stroke-width="0.3" font-weight="normal" >B = 1.0T</text>
<text transform="translate(222,261.6) scale(0.96,1)" font-size="20.8" text-anchor="start" fill="#ff0000" stroke="#ff0000" stroke-width="0.3" font-weight="normal" >B = 1.5T</text>
<text transform="translate(117,121) scale(0.96,1)" font-size="20.8" text-anchor="start" fill="#000" stroke="#000" stroke-width="0.3" font-weight="normal" >B</text>
<text transform="translate(371.5,133) scale(1.0,1)" font-size="20" text-anchor="middle" fill="#000" stroke="#000" stroke-width="0.3" font-weight="bold" >(a)</text>
<text transform="translate(374.5,411) scale(1.0,1)" font-size="20" text-anchor="middle" fill="#000" stroke="#000" stroke-width="0.3" font-weight="bold" >(b)</text>
<text transform="translate(176.5,410.3) scale(0.96,1)" font-size="20.8" text-anchor="start" fill="#000" stroke="#000" stroke-width="0.3" font-weight="normal" >B = 0 T</text>
<text transform="translate(257.5,528.5) scale(0.96,1)" font-size="20.8" text-anchor="start" fill="#008000" stroke="#008000" stroke-width="0.3" font-weight="normal" >B = 0.2T</text>
<text transform="translate(15.4,237.4) rotate(-90)" font-size="20" stroke="#000" stroke-width="0.3">ρ/ρ<tspan font-size="15" dy="7.6">300K</tspan></text>
<text transform="translate(26.1,504.5) rotate(-90)" font-size="20" stroke="#000" stroke-width="0.3">R</text>
<text transform="translate(26.1,479.5) rotate(-90)" font-size="20" stroke="#000" stroke-width="0.3">[mΩ]</text>
</g>
</svg>
</body></html>
